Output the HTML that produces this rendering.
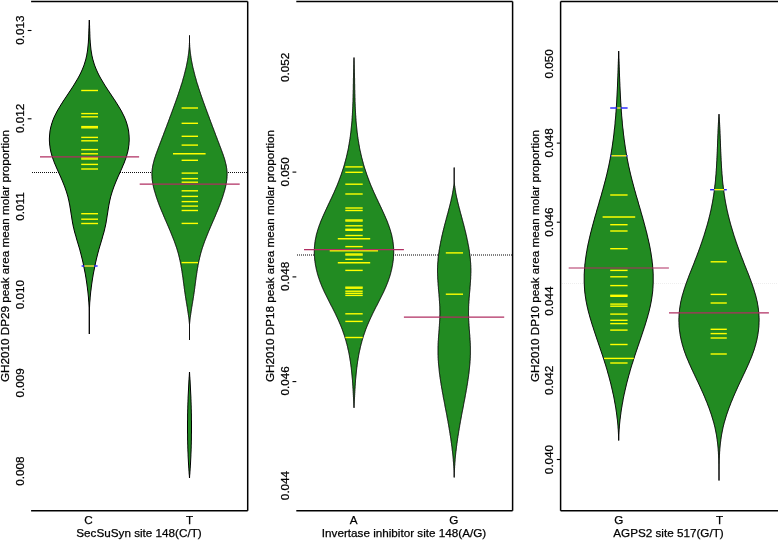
<!DOCTYPE html><html><head><meta charset="utf-8"><style>
html,body{margin:0;padding:0;background:#fff;}
svg{display:block;will-change:transform;}
text{font-family:"Liberation Sans",sans-serif;fill:#000;stroke:#000;stroke-width:0.25px;}
</style></head><body>
<svg width="778" height="541" viewBox="0 0 778 541">
<rect width="778" height="541" fill="#fff"/>
<path d="M31.1,1.6 L247.7,1.6 M31.1,510.8 L247.7,510.8 M247.7,1.6 L247.7,510.8" stroke="#000" stroke-width="1.5" fill="none"/>
<path d="M296.3,1.6 L512.6,1.6 M296.3,510.8 L512.6,510.8 M512.6,1.6 L512.6,510.8" stroke="#000" stroke-width="1.5" fill="none"/>
<path d="M560.6,1.6 L778.0,1.6 M560.6,510.8 L778.0,510.8 M560.6,1.6 L560.6,510.8" stroke="#000" stroke-width="1.5" fill="none"/>
<line x1="32" y1="172.5" x2="247" y2="172.5" stroke="#111" stroke-width="1" stroke-dasharray="1 1"/>
<line x1="297" y1="255.0" x2="512" y2="255.0" stroke="#000" stroke-width="1" stroke-dasharray="1 1"/>
<line x1="562" y1="283.5" x2="778" y2="283.5" stroke="#eeeeee" stroke-width="1" stroke-dasharray="1 1"/>
<path d="M89.3,20.0 L89.2,21.0 L89.2,22.0 L89.1,23.0 L89.1,24.0 L89.1,25.0 L89.0,26.0 L89.0,27.0 L89.0,28.0 L88.9,29.0 L88.9,30.0 L88.9,31.0 L88.8,32.0 L88.8,33.0 L88.8,34.0 L88.7,35.0 L88.7,36.0 L88.7,37.0 L88.6,38.0 L88.6,39.0 L88.5,40.0 L88.4,41.0 L88.4,42.0 L88.3,43.0 L88.2,44.0 L88.1,45.0 L88.0,46.0 L87.9,47.0 L87.8,48.0 L87.7,49.0 L87.6,50.0 L87.4,51.0 L87.3,52.0 L87.1,53.0 L86.9,54.0 L86.8,55.0 L86.6,56.0 L86.3,57.0 L86.1,58.0 L85.9,59.0 L85.6,60.0 L85.3,61.0 L85.0,62.0 L84.7,63.0 L84.4,64.0 L84.1,65.0 L83.7,66.0 L83.3,67.0 L82.9,68.0 L82.5,69.0 L82.1,70.0 L81.6,71.0 L81.2,72.0 L80.7,73.0 L80.2,74.0 L79.7,75.0 L79.2,76.0 L78.6,77.0 L78.1,78.0 L77.5,79.0 L76.9,80.0 L76.3,81.0 L75.7,82.0 L75.1,83.0 L74.5,84.0 L73.9,85.0 L73.3,86.0 L72.6,87.0 L72.0,88.0 L71.3,89.0 L70.7,90.0 L70.0,91.0 L69.3,92.0 L68.7,93.0 L68.0,94.0 L67.3,95.0 L66.7,96.0 L66.0,97.0 L65.3,98.0 L64.7,99.0 L64.0,100.0 L63.3,101.0 L62.7,102.0 L62.1,103.0 L61.4,104.0 L60.8,105.0 L60.2,106.0 L59.6,107.0 L59.0,108.0 L58.4,109.0 L57.8,110.0 L57.2,111.0 L56.7,112.0 L56.2,113.0 L55.7,114.0 L55.2,115.0 L54.7,116.0 L54.2,117.0 L53.8,118.0 L53.4,119.0 L53.0,120.0 L52.6,121.0 L52.3,122.0 L52.0,123.0 L51.6,124.0 L51.4,125.0 L51.1,126.0 L50.8,127.0 L50.6,128.0 L50.4,129.0 L50.2,130.0 L50.0,131.0 L49.9,132.0 L49.8,133.0 L49.7,134.0 L49.6,135.0 L49.5,136.0 L49.5,137.0 L49.4,138.0 L49.4,139.0 L49.4,140.0 L49.4,141.0 L49.5,142.0 L49.6,143.0 L49.6,144.0 L49.7,145.0 L49.9,146.0 L50.0,147.0 L50.1,148.0 L50.3,149.0 L50.5,150.0 L50.7,151.0 L50.9,152.0 L51.2,153.0 L51.5,154.0 L51.7,155.0 L52.0,156.0 L52.3,157.0 L52.7,158.0 L53.0,159.0 L53.4,160.0 L53.8,161.0 L54.1,162.0 L54.5,163.0 L54.9,164.0 L55.4,165.0 L55.8,166.0 L56.2,167.0 L56.6,168.0 L57.1,169.0 L57.5,170.0 L58.0,171.0 L58.4,172.0 L58.9,173.0 L59.3,174.0 L59.8,175.0 L60.2,176.0 L60.7,177.0 L61.1,178.0 L61.5,179.0 L62.0,180.0 L62.4,181.0 L62.8,182.0 L63.2,183.0 L63.6,184.0 L64.0,185.0 L64.4,186.0 L64.8,187.0 L65.1,188.0 L65.5,189.0 L65.8,190.0 L66.2,191.0 L66.5,192.0 L66.8,193.0 L67.1,194.0 L67.4,195.0 L67.7,196.0 L68.0,197.0 L68.2,198.0 L68.4,199.0 L68.7,200.0 L68.9,201.0 L69.1,202.0 L69.3,203.0 L69.5,204.0 L69.7,205.0 L69.9,206.0 L70.0,207.0 L70.2,208.0 L70.4,209.0 L70.5,210.0 L70.7,211.0 L70.8,212.0 L71.0,213.0 L71.1,214.0 L71.3,215.0 L71.5,216.0 L71.6,217.0 L71.8,218.0 L71.9,219.0 L72.1,220.0 L72.3,221.0 L72.4,222.0 L72.6,223.0 L72.8,224.0 L73.0,225.0 L73.2,226.0 L73.4,227.0 L73.7,228.0 L73.9,229.0 L74.1,230.0 L74.4,231.0 L74.6,232.0 L74.9,233.0 L75.2,234.0 L75.5,235.0 L75.8,236.0 L76.1,237.0 L76.3,238.0 L76.6,239.0 L76.9,240.0 L77.2,241.0 L77.5,242.0 L77.8,243.0 L78.1,244.0 L78.4,245.0 L78.7,246.0 L79.0,247.0 L79.3,248.0 L79.6,249.0 L79.9,250.0 L80.1,251.0 L80.4,252.0 L80.7,253.0 L80.9,254.0 L81.2,255.0 L81.4,256.0 L81.7,257.0 L81.9,258.0 L82.2,259.0 L82.4,260.0 L82.6,261.0 L82.9,262.0 L83.1,263.0 L83.3,264.0 L83.5,265.0 L83.7,266.0 L83.9,267.0 L84.1,268.0 L84.3,269.0 L84.5,270.0 L84.7,271.0 L84.9,272.0 L85.1,273.0 L85.3,274.0 L85.5,275.0 L85.6,276.0 L85.8,277.0 L86.0,278.0 L86.1,279.0 L86.3,280.0 L86.4,281.0 L86.6,282.0 L86.7,283.0 L86.9,284.0 L87.0,285.0 L87.1,286.0 L87.3,287.0 L87.4,288.0 L87.5,289.0 L87.6,290.0 L87.8,291.0 L87.9,292.0 L88.0,293.0 L88.1,294.0 L88.2,295.0 L88.3,296.0 L88.4,297.0 L88.5,298.0 L88.5,299.0 L88.6,300.0 L88.7,301.0 L88.8,302.0 L88.9,303.0 L88.9,304.0 L89.0,305.0 L89.0,306.0 L89.1,307.0 L89.2,308.0 L89.2,309.0 L89.2,310.0 L89.3,311.0 L89.3,312.0 L89.3,313.0 L89.3,314.0 L89.3,315.0 L89.3,316.0 L89.3,317.0 L89.3,318.0 L89.3,319.0 L89.3,320.0 L89.3,321.0 L89.3,322.0 L89.3,323.0 L89.3,324.0 L89.3,325.0 L89.3,326.0 L89.3,327.0 L89.3,328.0 L89.3,329.0 L89.3,330.0 L89.3,331.0 L89.3,332.0 L89.3,333.0 L89.3,334.0 L89.3,334.0 L89.3,333.0 L89.3,332.0 L89.3,331.0 L89.3,330.0 L89.3,329.0 L89.3,328.0 L89.3,327.0 L89.3,326.0 L89.3,325.0 L89.3,324.0 L89.3,323.0 L89.3,322.0 L89.3,321.0 L89.3,320.0 L89.3,319.0 L89.3,318.0 L89.3,317.0 L89.3,316.0 L89.3,315.0 L89.3,314.0 L89.3,313.0 L89.3,312.0 L89.3,311.0 L89.4,310.0 L89.4,309.0 L89.4,308.0 L89.5,307.0 L89.6,306.0 L89.6,305.0 L89.7,304.0 L89.7,303.0 L89.8,302.0 L89.9,301.0 L90.0,300.0 L90.1,299.0 L90.1,298.0 L90.2,297.0 L90.3,296.0 L90.4,295.0 L90.5,294.0 L90.6,293.0 L90.7,292.0 L90.8,291.0 L91.0,290.0 L91.1,289.0 L91.2,288.0 L91.3,287.0 L91.5,286.0 L91.6,285.0 L91.7,284.0 L91.9,283.0 L92.0,282.0 L92.2,281.0 L92.3,280.0 L92.5,279.0 L92.6,278.0 L92.8,277.0 L93.0,276.0 L93.1,275.0 L93.3,274.0 L93.5,273.0 L93.7,272.0 L93.9,271.0 L94.1,270.0 L94.3,269.0 L94.5,268.0 L94.7,267.0 L94.9,266.0 L95.1,265.0 L95.3,264.0 L95.5,263.0 L95.7,262.0 L96.0,261.0 L96.2,260.0 L96.4,259.0 L96.7,258.0 L96.9,257.0 L97.2,256.0 L97.4,255.0 L97.7,254.0 L97.9,253.0 L98.2,252.0 L98.5,251.0 L98.7,250.0 L99.0,249.0 L99.3,248.0 L99.6,247.0 L99.9,246.0 L100.2,245.0 L100.5,244.0 L100.8,243.0 L101.1,242.0 L101.4,241.0 L101.7,240.0 L102.0,239.0 L102.3,238.0 L102.5,237.0 L102.8,236.0 L103.1,235.0 L103.4,234.0 L103.7,233.0 L104.0,232.0 L104.2,231.0 L104.5,230.0 L104.7,229.0 L104.9,228.0 L105.2,227.0 L105.4,226.0 L105.6,225.0 L105.8,224.0 L106.0,223.0 L106.2,222.0 L106.3,221.0 L106.5,220.0 L106.7,219.0 L106.8,218.0 L107.0,217.0 L107.1,216.0 L107.3,215.0 L107.5,214.0 L107.6,213.0 L107.8,212.0 L107.9,211.0 L108.1,210.0 L108.2,209.0 L108.4,208.0 L108.6,207.0 L108.7,206.0 L108.9,205.0 L109.1,204.0 L109.3,203.0 L109.5,202.0 L109.7,201.0 L109.9,200.0 L110.2,199.0 L110.4,198.0 L110.6,197.0 L110.9,196.0 L111.2,195.0 L111.5,194.0 L111.8,193.0 L112.1,192.0 L112.4,191.0 L112.8,190.0 L113.1,189.0 L113.5,188.0 L113.8,187.0 L114.2,186.0 L114.6,185.0 L115.0,184.0 L115.4,183.0 L115.8,182.0 L116.2,181.0 L116.6,180.0 L117.1,179.0 L117.5,178.0 L117.9,177.0 L118.4,176.0 L118.8,175.0 L119.3,174.0 L119.7,173.0 L120.2,172.0 L120.6,171.0 L121.1,170.0 L121.5,169.0 L122.0,168.0 L122.4,167.0 L122.8,166.0 L123.2,165.0 L123.7,164.0 L124.1,163.0 L124.5,162.0 L124.8,161.0 L125.2,160.0 L125.6,159.0 L125.9,158.0 L126.3,157.0 L126.6,156.0 L126.9,155.0 L127.1,154.0 L127.4,153.0 L127.7,152.0 L127.9,151.0 L128.1,150.0 L128.3,149.0 L128.5,148.0 L128.6,147.0 L128.7,146.0 L128.9,145.0 L129.0,144.0 L129.0,143.0 L129.1,142.0 L129.2,141.0 L129.2,140.0 L129.2,139.0 L129.2,138.0 L129.1,137.0 L129.1,136.0 L129.0,135.0 L128.9,134.0 L128.8,133.0 L128.7,132.0 L128.6,131.0 L128.4,130.0 L128.2,129.0 L128.0,128.0 L127.8,127.0 L127.5,126.0 L127.2,125.0 L127.0,124.0 L126.6,123.0 L126.3,122.0 L126.0,121.0 L125.6,120.0 L125.2,119.0 L124.8,118.0 L124.4,117.0 L123.9,116.0 L123.4,115.0 L122.9,114.0 L122.4,113.0 L121.9,112.0 L121.4,111.0 L120.8,110.0 L120.2,109.0 L119.6,108.0 L119.0,107.0 L118.4,106.0 L117.8,105.0 L117.2,104.0 L116.5,103.0 L115.9,102.0 L115.3,101.0 L114.6,100.0 L113.9,99.0 L113.3,98.0 L112.6,97.0 L111.9,96.0 L111.3,95.0 L110.6,94.0 L109.9,93.0 L109.3,92.0 L108.6,91.0 L107.9,90.0 L107.3,89.0 L106.6,88.0 L106.0,87.0 L105.3,86.0 L104.7,85.0 L104.1,84.0 L103.5,83.0 L102.9,82.0 L102.3,81.0 L101.7,80.0 L101.1,79.0 L100.5,78.0 L100.0,77.0 L99.4,76.0 L98.9,75.0 L98.4,74.0 L97.9,73.0 L97.4,72.0 L97.0,71.0 L96.5,70.0 L96.1,69.0 L95.7,68.0 L95.3,67.0 L94.9,66.0 L94.5,65.0 L94.2,64.0 L93.9,63.0 L93.6,62.0 L93.3,61.0 L93.0,60.0 L92.7,59.0 L92.5,58.0 L92.3,57.0 L92.0,56.0 L91.8,55.0 L91.7,54.0 L91.5,53.0 L91.3,52.0 L91.2,51.0 L91.0,50.0 L90.9,49.0 L90.8,48.0 L90.7,47.0 L90.6,46.0 L90.5,45.0 L90.4,44.0 L90.3,43.0 L90.2,42.0 L90.2,41.0 L90.1,40.0 L90.0,39.0 L90.0,38.0 L89.9,37.0 L89.9,36.0 L89.9,35.0 L89.8,34.0 L89.8,33.0 L89.8,32.0 L89.7,31.0 L89.7,30.0 L89.7,29.0 L89.6,28.0 L89.6,27.0 L89.6,26.0 L89.5,25.0 L89.5,24.0 L89.5,23.0 L89.4,22.0 L89.4,21.0 L89.3,20.0 Z" fill="#228B22" stroke="#000" stroke-width="1"/>
<path d="M189.5,35.5 L189.5,36.5 L189.5,37.5 L189.5,38.5 L189.5,39.5 L189.5,40.5 L189.5,41.5 L189.5,42.5 L189.4,43.5 L189.4,44.5 L189.3,45.5 L189.3,46.5 L189.2,47.5 L189.1,48.5 L189.0,49.5 L188.9,50.5 L188.8,51.5 L188.7,52.5 L188.6,53.5 L188.4,54.5 L188.3,55.5 L188.1,56.5 L188.0,57.5 L187.8,58.5 L187.7,59.5 L187.5,60.5 L187.3,61.5 L187.1,62.5 L186.9,63.5 L186.7,64.5 L186.5,65.5 L186.3,66.5 L186.1,67.5 L185.8,68.5 L185.6,69.5 L185.3,70.5 L185.1,71.5 L184.8,72.5 L184.6,73.5 L184.3,74.5 L184.1,75.5 L183.8,76.5 L183.5,77.5 L183.2,78.5 L182.9,79.5 L182.7,80.5 L182.4,81.5 L182.1,82.5 L181.8,83.5 L181.4,84.5 L181.1,85.5 L180.8,86.5 L180.5,87.5 L180.2,88.5 L179.8,89.5 L179.5,90.5 L179.2,91.5 L178.8,92.5 L178.5,93.5 L178.2,94.5 L177.8,95.5 L177.5,96.5 L177.1,97.5 L176.8,98.5 L176.4,99.5 L176.1,100.5 L175.7,101.5 L175.4,102.5 L175.0,103.5 L174.6,104.5 L174.3,105.5 L173.9,106.5 L173.5,107.5 L173.2,108.5 L172.8,109.5 L172.4,110.5 L172.1,111.5 L171.7,112.5 L171.3,113.5 L171.0,114.5 L170.6,115.5 L170.2,116.5 L169.8,117.5 L169.5,118.5 L169.1,119.5 L168.7,120.5 L168.4,121.5 L168.0,122.5 L167.6,123.5 L167.2,124.5 L166.9,125.5 L166.5,126.5 L166.1,127.5 L165.7,128.5 L165.3,129.5 L165.0,130.5 L164.6,131.5 L164.2,132.5 L163.8,133.5 L163.5,134.5 L163.1,135.5 L162.7,136.5 L162.3,137.5 L161.9,138.5 L161.6,139.5 L161.2,140.5 L160.8,141.5 L160.4,142.5 L160.0,143.5 L159.7,144.5 L159.3,145.5 L158.9,146.5 L158.5,147.5 L158.1,148.5 L157.8,149.5 L157.4,150.5 L157.0,151.5 L156.7,152.5 L156.3,153.5 L155.9,154.5 L155.6,155.5 L155.3,156.5 L154.9,157.5 L154.6,158.5 L154.3,159.5 L154.0,160.5 L153.8,161.5 L153.5,162.5 L153.3,163.5 L153.0,164.5 L152.8,165.5 L152.6,166.5 L152.5,167.5 L152.3,168.5 L152.2,169.5 L152.1,170.5 L152.0,171.5 L151.9,172.5 L151.9,173.5 L151.9,174.5 L151.9,175.5 L152.0,176.5 L152.0,177.5 L152.1,178.5 L152.2,179.5 L152.3,180.5 L152.5,181.5 L152.6,182.5 L152.8,183.5 L153.0,184.5 L153.2,185.5 L153.4,186.5 L153.6,187.5 L153.9,188.5 L154.1,189.5 L154.4,190.5 L154.7,191.5 L155.0,192.5 L155.3,193.5 L155.6,194.5 L155.9,195.5 L156.2,196.5 L156.5,197.5 L156.9,198.5 L157.2,199.5 L157.6,200.5 L157.9,201.5 L158.3,202.5 L158.7,203.5 L159.0,204.5 L159.4,205.5 L159.8,206.5 L160.2,207.5 L160.6,208.5 L161.0,209.5 L161.4,210.5 L161.8,211.5 L162.3,212.5 L162.7,213.5 L163.1,214.5 L163.5,215.5 L163.9,216.5 L164.4,217.5 L164.8,218.5 L165.2,219.5 L165.7,220.5 L166.1,221.5 L166.5,222.5 L167.0,223.5 L167.4,224.5 L167.8,225.5 L168.3,226.5 L168.7,227.5 L169.1,228.5 L169.5,229.5 L170.0,230.5 L170.4,231.5 L170.8,232.5 L171.2,233.5 L171.6,234.5 L172.0,235.5 L172.4,236.5 L172.8,237.5 L173.2,238.5 L173.6,239.5 L174.0,240.5 L174.4,241.5 L174.7,242.5 L175.1,243.5 L175.4,244.5 L175.8,245.5 L176.1,246.5 L176.5,247.5 L176.8,248.5 L177.1,249.5 L177.4,250.5 L177.7,251.5 L178.0,252.5 L178.3,253.5 L178.5,254.5 L178.8,255.5 L179.0,256.5 L179.3,257.5 L179.5,258.5 L179.7,259.5 L180.0,260.5 L180.2,261.5 L180.4,262.5 L180.6,263.5 L180.8,264.5 L181.0,265.5 L181.1,266.5 L181.3,267.5 L181.5,268.5 L181.7,269.5 L181.8,270.5 L182.0,271.5 L182.1,272.5 L182.3,273.5 L182.4,274.5 L182.6,275.5 L182.7,276.5 L182.9,277.5 L183.0,278.5 L183.1,279.5 L183.3,280.5 L183.4,281.5 L183.5,282.5 L183.7,283.5 L183.8,284.5 L183.9,285.5 L184.1,286.5 L184.2,287.5 L184.3,288.5 L184.5,289.5 L184.6,290.5 L184.7,291.5 L184.9,292.5 L185.0,293.5 L185.2,294.5 L185.3,295.5 L185.5,296.5 L185.6,297.5 L185.8,298.5 L185.9,299.5 L186.1,300.5 L186.3,301.5 L186.4,302.5 L186.6,303.5 L186.8,304.5 L186.9,305.5 L187.1,306.5 L187.3,307.5 L187.4,308.5 L187.6,309.5 L187.7,310.5 L187.9,311.5 L188.0,312.5 L188.2,313.5 L188.3,314.5 L188.5,315.5 L188.6,316.5 L188.8,317.5 L188.9,318.5 L189.0,319.5 L189.1,320.5 L189.2,321.5 L189.3,322.5 L189.4,323.5 L189.5,324.5 L189.5,325.5 L189.5,326.5 L189.5,327.5 L189.5,328.5 L189.5,329.5 L189.5,330.5 L189.5,331.5 L189.5,332.5 L189.5,333.5 L189.5,334.5 L189.5,335.5 L189.5,336.5 L189.5,337.5 L189.5,338.5 L189.5,339.5 L189.5,340.0 L189.5,340.0 L189.5,339.5 L189.5,338.5 L189.5,337.5 L189.5,336.5 L189.5,335.5 L189.5,334.5 L189.5,333.5 L189.5,332.5 L189.5,331.5 L189.5,330.5 L189.5,329.5 L189.5,328.5 L189.5,327.5 L189.5,326.5 L189.5,325.5 L189.5,324.5 L189.6,323.5 L189.7,322.5 L189.8,321.5 L189.9,320.5 L190.0,319.5 L190.1,318.5 L190.2,317.5 L190.4,316.5 L190.5,315.5 L190.7,314.5 L190.8,313.5 L191.0,312.5 L191.1,311.5 L191.3,310.5 L191.4,309.5 L191.6,308.5 L191.7,307.5 L191.9,306.5 L192.1,305.5 L192.2,304.5 L192.4,303.5 L192.6,302.5 L192.7,301.5 L192.9,300.5 L193.1,299.5 L193.2,298.5 L193.4,297.5 L193.5,296.5 L193.7,295.5 L193.8,294.5 L194.0,293.5 L194.1,292.5 L194.3,291.5 L194.4,290.5 L194.5,289.5 L194.7,288.5 L194.8,287.5 L194.9,286.5 L195.1,285.5 L195.2,284.5 L195.3,283.5 L195.5,282.5 L195.6,281.5 L195.7,280.5 L195.9,279.5 L196.0,278.5 L196.1,277.5 L196.3,276.5 L196.4,275.5 L196.6,274.5 L196.7,273.5 L196.9,272.5 L197.0,271.5 L197.2,270.5 L197.3,269.5 L197.5,268.5 L197.7,267.5 L197.9,266.5 L198.0,265.5 L198.2,264.5 L198.4,263.5 L198.6,262.5 L198.8,261.5 L199.0,260.5 L199.3,259.5 L199.5,258.5 L199.7,257.5 L200.0,256.5 L200.2,255.5 L200.5,254.5 L200.7,253.5 L201.0,252.5 L201.3,251.5 L201.6,250.5 L201.9,249.5 L202.2,248.5 L202.5,247.5 L202.9,246.5 L203.2,245.5 L203.6,244.5 L203.9,243.5 L204.3,242.5 L204.6,241.5 L205.0,240.5 L205.4,239.5 L205.8,238.5 L206.2,237.5 L206.6,236.5 L207.0,235.5 L207.4,234.5 L207.8,233.5 L208.2,232.5 L208.6,231.5 L209.0,230.5 L209.5,229.5 L209.9,228.5 L210.3,227.5 L210.7,226.5 L211.2,225.5 L211.6,224.5 L212.0,223.5 L212.5,222.5 L212.9,221.5 L213.3,220.5 L213.8,219.5 L214.2,218.5 L214.6,217.5 L215.1,216.5 L215.5,215.5 L215.9,214.5 L216.3,213.5 L216.7,212.5 L217.2,211.5 L217.6,210.5 L218.0,209.5 L218.4,208.5 L218.8,207.5 L219.2,206.5 L219.6,205.5 L220.0,204.5 L220.3,203.5 L220.7,202.5 L221.1,201.5 L221.4,200.5 L221.8,199.5 L222.1,198.5 L222.5,197.5 L222.8,196.5 L223.1,195.5 L223.4,194.5 L223.7,193.5 L224.0,192.5 L224.3,191.5 L224.6,190.5 L224.9,189.5 L225.1,188.5 L225.4,187.5 L225.6,186.5 L225.8,185.5 L226.0,184.5 L226.2,183.5 L226.4,182.5 L226.5,181.5 L226.7,180.5 L226.8,179.5 L226.9,178.5 L227.0,177.5 L227.0,176.5 L227.1,175.5 L227.1,174.5 L227.1,173.5 L227.1,172.5 L227.0,171.5 L226.9,170.5 L226.8,169.5 L226.7,168.5 L226.5,167.5 L226.4,166.5 L226.2,165.5 L226.0,164.5 L225.7,163.5 L225.5,162.5 L225.2,161.5 L225.0,160.5 L224.7,159.5 L224.4,158.5 L224.1,157.5 L223.7,156.5 L223.4,155.5 L223.1,154.5 L222.7,153.5 L222.3,152.5 L222.0,151.5 L221.6,150.5 L221.2,149.5 L220.9,148.5 L220.5,147.5 L220.1,146.5 L219.7,145.5 L219.3,144.5 L219.0,143.5 L218.6,142.5 L218.2,141.5 L217.8,140.5 L217.4,139.5 L217.1,138.5 L216.7,137.5 L216.3,136.5 L215.9,135.5 L215.5,134.5 L215.2,133.5 L214.8,132.5 L214.4,131.5 L214.0,130.5 L213.7,129.5 L213.3,128.5 L212.9,127.5 L212.5,126.5 L212.1,125.5 L211.8,124.5 L211.4,123.5 L211.0,122.5 L210.6,121.5 L210.3,120.5 L209.9,119.5 L209.5,118.5 L209.2,117.5 L208.8,116.5 L208.4,115.5 L208.0,114.5 L207.7,113.5 L207.3,112.5 L206.9,111.5 L206.6,110.5 L206.2,109.5 L205.8,108.5 L205.5,107.5 L205.1,106.5 L204.7,105.5 L204.4,104.5 L204.0,103.5 L203.6,102.5 L203.3,101.5 L202.9,100.5 L202.6,99.5 L202.2,98.5 L201.9,97.5 L201.5,96.5 L201.2,95.5 L200.8,94.5 L200.5,93.5 L200.2,92.5 L199.8,91.5 L199.5,90.5 L199.2,89.5 L198.8,88.5 L198.5,87.5 L198.2,86.5 L197.9,85.5 L197.6,84.5 L197.2,83.5 L196.9,82.5 L196.6,81.5 L196.3,80.5 L196.1,79.5 L195.8,78.5 L195.5,77.5 L195.2,76.5 L194.9,75.5 L194.7,74.5 L194.4,73.5 L194.2,72.5 L193.9,71.5 L193.7,70.5 L193.4,69.5 L193.2,68.5 L192.9,67.5 L192.7,66.5 L192.5,65.5 L192.3,64.5 L192.1,63.5 L191.9,62.5 L191.7,61.5 L191.5,60.5 L191.3,59.5 L191.2,58.5 L191.0,57.5 L190.9,56.5 L190.7,55.5 L190.6,54.5 L190.4,53.5 L190.3,52.5 L190.2,51.5 L190.1,50.5 L190.0,49.5 L189.9,48.5 L189.8,47.5 L189.7,46.5 L189.7,45.5 L189.6,44.5 L189.6,43.5 L189.5,42.5 L189.5,41.5 L189.5,40.5 L189.5,39.5 L189.5,38.5 L189.5,37.5 L189.5,36.5 L189.5,35.5 Z" fill="#228B22" stroke="#000" stroke-width="1"/>
<path d="M189.5,372.0 L189.4,373.0 L189.4,374.0 L189.3,375.0 L189.3,376.0 L189.2,377.0 L189.1,378.0 L189.1,379.0 L189.0,380.0 L188.9,381.0 L188.9,382.0 L188.8,383.0 L188.8,384.0 L188.7,385.0 L188.7,386.0 L188.6,387.0 L188.6,388.0 L188.5,389.0 L188.5,390.0 L188.4,391.0 L188.4,392.0 L188.3,393.0 L188.3,394.0 L188.2,395.0 L188.2,396.0 L188.1,397.0 L188.1,398.0 L188.1,399.0 L188.0,400.0 L188.0,401.0 L188.0,402.0 L187.9,403.0 L187.9,404.0 L187.9,405.0 L187.8,406.0 L187.8,407.0 L187.8,408.0 L187.8,409.0 L187.7,410.0 L187.7,411.0 L187.7,412.0 L187.7,413.0 L187.6,414.0 L187.6,415.0 L187.6,416.0 L187.6,417.0 L187.6,418.0 L187.6,419.0 L187.6,420.0 L187.5,421.0 L187.5,422.0 L187.5,423.0 L187.5,424.0 L187.5,425.0 L187.5,426.0 L187.5,427.0 L187.5,428.0 L187.5,429.0 L187.5,430.0 L187.5,431.0 L187.5,432.0 L187.5,433.0 L187.6,434.0 L187.6,435.0 L187.6,436.0 L187.6,437.0 L187.6,438.0 L187.6,439.0 L187.6,440.0 L187.7,441.0 L187.7,442.0 L187.7,443.0 L187.7,444.0 L187.8,445.0 L187.8,446.0 L187.8,447.0 L187.8,448.0 L187.9,449.0 L187.9,450.0 L187.9,451.0 L188.0,452.0 L188.0,453.0 L188.1,454.0 L188.1,455.0 L188.1,456.0 L188.2,457.0 L188.2,458.0 L188.3,459.0 L188.3,460.0 L188.4,461.0 L188.4,462.0 L188.5,463.0 L188.5,464.0 L188.6,465.0 L188.7,466.0 L188.7,467.0 L188.8,468.0 L188.9,469.0 L188.9,470.0 L189.0,471.0 L189.1,472.0 L189.1,473.0 L189.2,474.0 L189.3,475.0 L189.4,476.0 L189.4,477.0 L189.5,478.0 L189.5,478.0 L189.6,477.0 L189.6,476.0 L189.7,475.0 L189.8,474.0 L189.9,473.0 L189.9,472.0 L190.0,471.0 L190.1,470.0 L190.1,469.0 L190.2,468.0 L190.3,467.0 L190.3,466.0 L190.4,465.0 L190.5,464.0 L190.5,463.0 L190.6,462.0 L190.6,461.0 L190.7,460.0 L190.7,459.0 L190.8,458.0 L190.8,457.0 L190.9,456.0 L190.9,455.0 L190.9,454.0 L191.0,453.0 L191.0,452.0 L191.1,451.0 L191.1,450.0 L191.1,449.0 L191.2,448.0 L191.2,447.0 L191.2,446.0 L191.2,445.0 L191.3,444.0 L191.3,443.0 L191.3,442.0 L191.3,441.0 L191.4,440.0 L191.4,439.0 L191.4,438.0 L191.4,437.0 L191.4,436.0 L191.4,435.0 L191.4,434.0 L191.5,433.0 L191.5,432.0 L191.5,431.0 L191.5,430.0 L191.5,429.0 L191.5,428.0 L191.5,427.0 L191.5,426.0 L191.5,425.0 L191.5,424.0 L191.5,423.0 L191.5,422.0 L191.5,421.0 L191.4,420.0 L191.4,419.0 L191.4,418.0 L191.4,417.0 L191.4,416.0 L191.4,415.0 L191.4,414.0 L191.3,413.0 L191.3,412.0 L191.3,411.0 L191.3,410.0 L191.2,409.0 L191.2,408.0 L191.2,407.0 L191.2,406.0 L191.1,405.0 L191.1,404.0 L191.1,403.0 L191.0,402.0 L191.0,401.0 L191.0,400.0 L190.9,399.0 L190.9,398.0 L190.9,397.0 L190.8,396.0 L190.8,395.0 L190.7,394.0 L190.7,393.0 L190.6,392.0 L190.6,391.0 L190.5,390.0 L190.5,389.0 L190.4,388.0 L190.4,387.0 L190.3,386.0 L190.3,385.0 L190.2,384.0 L190.2,383.0 L190.1,382.0 L190.1,381.0 L190.0,380.0 L189.9,379.0 L189.9,378.0 L189.8,377.0 L189.7,376.0 L189.7,375.0 L189.6,374.0 L189.6,373.0 L189.5,372.0 Z" fill="#228B22" stroke="#000" stroke-width="1"/>
<path d="M354.0,57.6 L354.0,58.6 L353.9,59.6 L353.9,60.6 L353.8,61.6 L353.8,62.6 L353.8,63.6 L353.8,64.6 L353.7,65.6 L353.7,66.6 L353.7,67.6 L353.7,68.6 L353.6,69.6 L353.6,70.6 L353.6,71.6 L353.6,72.6 L353.5,73.6 L353.5,74.6 L353.5,75.6 L353.5,76.6 L353.5,77.6 L353.4,78.6 L353.4,79.6 L353.4,80.6 L353.4,81.6 L353.4,82.6 L353.4,83.6 L353.3,84.6 L353.3,85.6 L353.3,86.6 L353.3,87.6 L353.3,88.6 L353.3,89.6 L353.2,90.6 L353.2,91.6 L353.2,92.6 L353.2,93.6 L353.1,94.6 L353.1,95.6 L353.1,96.6 L353.1,97.6 L353.0,98.6 L353.0,99.6 L353.0,100.6 L353.0,101.6 L352.9,102.6 L352.9,103.6 L352.8,104.6 L352.8,105.6 L352.8,106.6 L352.7,107.6 L352.7,108.6 L352.6,109.6 L352.6,110.6 L352.5,111.6 L352.5,112.6 L352.4,113.6 L352.4,114.6 L352.3,115.6 L352.2,116.6 L352.2,117.6 L352.1,118.6 L352.0,119.6 L352.0,120.6 L351.9,121.6 L351.8,122.6 L351.7,123.6 L351.6,124.6 L351.5,125.6 L351.4,126.6 L351.3,127.6 L351.2,128.6 L351.1,129.6 L351.0,130.6 L350.9,131.6 L350.8,132.6 L350.6,133.6 L350.5,134.6 L350.4,135.6 L350.3,136.6 L350.1,137.6 L350.0,138.6 L349.8,139.6 L349.7,140.6 L349.5,141.6 L349.3,142.6 L349.2,143.6 L349.0,144.6 L348.8,145.6 L348.6,146.6 L348.5,147.6 L348.3,148.6 L348.1,149.6 L347.9,150.6 L347.6,151.6 L347.4,152.6 L347.2,153.6 L347.0,154.6 L346.7,155.6 L346.5,156.6 L346.3,157.6 L346.0,158.6 L345.7,159.6 L345.5,160.6 L345.2,161.6 L344.9,162.6 L344.7,163.6 L344.4,164.6 L344.1,165.6 L343.8,166.6 L343.5,167.6 L343.2,168.6 L342.8,169.6 L342.5,170.6 L342.2,171.6 L341.8,172.6 L341.5,173.6 L341.2,174.6 L340.8,175.6 L340.4,176.6 L340.1,177.6 L339.7,178.6 L339.3,179.6 L339.0,180.6 L338.6,181.6 L338.2,182.6 L337.8,183.6 L337.4,184.6 L337.0,185.6 L336.6,186.6 L336.1,187.6 L335.7,188.6 L335.3,189.6 L334.8,190.6 L334.4,191.6 L334.0,192.6 L333.5,193.6 L333.0,194.6 L332.6,195.6 L332.1,196.6 L331.7,197.6 L331.2,198.6 L330.7,199.6 L330.2,200.6 L329.8,201.6 L329.3,202.6 L328.8,203.6 L328.3,204.6 L327.9,205.6 L327.4,206.6 L326.9,207.6 L326.5,208.6 L326.0,209.6 L325.5,210.6 L325.1,211.6 L324.6,212.6 L324.2,213.6 L323.7,214.6 L323.3,215.6 L322.8,216.6 L322.4,217.6 L322.0,218.6 L321.5,219.6 L321.1,220.6 L320.7,221.6 L320.3,222.6 L320.0,223.6 L319.6,224.6 L319.2,225.6 L318.9,226.6 L318.5,227.6 L318.2,228.6 L317.9,229.6 L317.5,230.6 L317.3,231.6 L317.0,232.6 L316.7,233.6 L316.4,234.6 L316.2,235.6 L316.0,236.6 L315.8,237.6 L315.6,238.6 L315.4,239.6 L315.2,240.6 L315.1,241.6 L314.9,242.6 L314.8,243.6 L314.7,244.6 L314.6,245.6 L314.5,246.6 L314.4,247.6 L314.4,248.6 L314.4,249.6 L314.3,250.6 L314.3,251.6 L314.3,252.6 L314.3,253.6 L314.4,254.6 L314.4,255.6 L314.5,256.6 L314.6,257.6 L314.6,258.6 L314.7,259.6 L314.8,260.6 L315.0,261.6 L315.1,262.6 L315.3,263.6 L315.4,264.6 L315.6,265.6 L315.8,266.6 L316.0,267.6 L316.2,268.6 L316.4,269.6 L316.7,270.6 L316.9,271.6 L317.2,272.6 L317.4,273.6 L317.7,274.6 L318.0,275.6 L318.3,276.6 L318.6,277.6 L319.0,278.6 L319.3,279.6 L319.7,280.6 L320.0,281.6 L320.4,282.6 L320.8,283.6 L321.2,284.6 L321.6,285.6 L322.0,286.6 L322.4,287.6 L322.9,288.6 L323.3,289.6 L323.8,290.6 L324.2,291.6 L324.7,292.6 L325.2,293.6 L325.7,294.6 L326.2,295.6 L326.7,296.6 L327.2,297.6 L327.7,298.6 L328.2,299.6 L328.7,300.6 L329.2,301.6 L329.7,302.6 L330.2,303.6 L330.7,304.6 L331.2,305.6 L331.8,306.6 L332.3,307.6 L332.8,308.6 L333.3,309.6 L333.8,310.6 L334.3,311.6 L334.8,312.6 L335.3,313.6 L335.8,314.6 L336.2,315.6 L336.7,316.6 L337.2,317.6 L337.6,318.6 L338.1,319.6 L338.5,320.6 L339.0,321.6 L339.4,322.6 L339.8,323.6 L340.3,324.6 L340.7,325.6 L341.1,326.6 L341.5,327.6 L341.9,328.6 L342.3,329.6 L342.6,330.6 L343.0,331.6 L343.3,332.6 L343.7,333.6 L344.0,334.6 L344.4,335.6 L344.7,336.6 L345.0,337.6 L345.3,338.6 L345.6,339.6 L345.9,340.6 L346.2,341.6 L346.4,342.6 L346.7,343.6 L347.0,344.6 L347.2,345.6 L347.5,346.6 L347.7,347.6 L347.9,348.6 L348.1,349.6 L348.4,350.6 L348.6,351.6 L348.8,352.6 L349.0,353.6 L349.2,354.6 L349.4,355.6 L349.5,356.6 L349.7,357.6 L349.9,358.6 L350.0,359.6 L350.2,360.6 L350.4,361.6 L350.5,362.6 L350.6,363.6 L350.8,364.6 L350.9,365.6 L351.0,366.6 L351.2,367.6 L351.3,368.6 L351.4,369.6 L351.5,370.6 L351.6,371.6 L351.7,372.6 L351.8,373.6 L351.9,374.6 L352.0,375.6 L352.1,376.6 L352.2,377.6 L352.3,378.6 L352.4,379.6 L352.5,380.6 L352.5,381.6 L352.6,382.6 L352.7,383.6 L352.7,384.6 L352.8,385.6 L352.9,386.6 L352.9,387.6 L353.0,388.6 L353.1,389.6 L353.1,390.6 L353.2,391.6 L353.2,392.6 L353.3,393.6 L353.3,394.6 L353.4,395.6 L353.4,396.6 L353.5,397.6 L353.5,398.6 L353.6,399.6 L353.6,400.6 L353.7,401.6 L353.7,402.6 L353.8,403.6 L353.8,404.6 L353.9,405.6 L353.9,406.6 L354.0,407.6 L354.0,407.8 L354.0,407.8 L354.0,407.6 L354.1,406.6 L354.1,405.6 L354.2,404.6 L354.2,403.6 L354.3,402.6 L354.3,401.6 L354.4,400.6 L354.4,399.6 L354.5,398.6 L354.5,397.6 L354.6,396.6 L354.6,395.6 L354.7,394.6 L354.7,393.6 L354.8,392.6 L354.8,391.6 L354.9,390.6 L354.9,389.6 L355.0,388.6 L355.1,387.6 L355.1,386.6 L355.2,385.6 L355.3,384.6 L355.3,383.6 L355.4,382.6 L355.5,381.6 L355.5,380.6 L355.6,379.6 L355.7,378.6 L355.8,377.6 L355.9,376.6 L356.0,375.6 L356.1,374.6 L356.2,373.6 L356.3,372.6 L356.4,371.6 L356.5,370.6 L356.6,369.6 L356.7,368.6 L356.8,367.6 L357.0,366.6 L357.1,365.6 L357.2,364.6 L357.4,363.6 L357.5,362.6 L357.6,361.6 L357.8,360.6 L358.0,359.6 L358.1,358.6 L358.3,357.6 L358.5,356.6 L358.6,355.6 L358.8,354.6 L359.0,353.6 L359.2,352.6 L359.4,351.6 L359.6,350.6 L359.9,349.6 L360.1,348.6 L360.3,347.6 L360.5,346.6 L360.8,345.6 L361.0,344.6 L361.3,343.6 L361.6,342.6 L361.8,341.6 L362.1,340.6 L362.4,339.6 L362.7,338.6 L363.0,337.6 L363.3,336.6 L363.6,335.6 L364.0,334.6 L364.3,333.6 L364.7,332.6 L365.0,331.6 L365.4,330.6 L365.7,329.6 L366.1,328.6 L366.5,327.6 L366.9,326.6 L367.3,325.6 L367.7,324.6 L368.2,323.6 L368.6,322.6 L369.0,321.6 L369.5,320.6 L369.9,319.6 L370.4,318.6 L370.8,317.6 L371.3,316.6 L371.8,315.6 L372.2,314.6 L372.7,313.6 L373.2,312.6 L373.7,311.6 L374.2,310.6 L374.7,309.6 L375.2,308.6 L375.7,307.6 L376.2,306.6 L376.8,305.6 L377.3,304.6 L377.8,303.6 L378.3,302.6 L378.8,301.6 L379.3,300.6 L379.8,299.6 L380.3,298.6 L380.8,297.6 L381.3,296.6 L381.8,295.6 L382.3,294.6 L382.8,293.6 L383.3,292.6 L383.8,291.6 L384.2,290.6 L384.7,289.6 L385.1,288.6 L385.6,287.6 L386.0,286.6 L386.4,285.6 L386.8,284.6 L387.2,283.6 L387.6,282.6 L388.0,281.6 L388.3,280.6 L388.7,279.6 L389.0,278.6 L389.4,277.6 L389.7,276.6 L390.0,275.6 L390.3,274.6 L390.6,273.6 L390.8,272.6 L391.1,271.6 L391.3,270.6 L391.6,269.6 L391.8,268.6 L392.0,267.6 L392.2,266.6 L392.4,265.6 L392.6,264.6 L392.7,263.6 L392.9,262.6 L393.0,261.6 L393.2,260.6 L393.3,259.6 L393.4,258.6 L393.4,257.6 L393.5,256.6 L393.6,255.6 L393.6,254.6 L393.7,253.6 L393.7,252.6 L393.7,251.6 L393.7,250.6 L393.6,249.6 L393.6,248.6 L393.6,247.6 L393.5,246.6 L393.4,245.6 L393.3,244.6 L393.2,243.6 L393.1,242.6 L392.9,241.6 L392.8,240.6 L392.6,239.6 L392.4,238.6 L392.2,237.6 L392.0,236.6 L391.8,235.6 L391.6,234.6 L391.3,233.6 L391.0,232.6 L390.7,231.6 L390.5,230.6 L390.1,229.6 L389.8,228.6 L389.5,227.6 L389.1,226.6 L388.8,225.6 L388.4,224.6 L388.0,223.6 L387.7,222.6 L387.3,221.6 L386.9,220.6 L386.5,219.6 L386.0,218.6 L385.6,217.6 L385.2,216.6 L384.7,215.6 L384.3,214.6 L383.8,213.6 L383.4,212.6 L382.9,211.6 L382.5,210.6 L382.0,209.6 L381.5,208.6 L381.1,207.6 L380.6,206.6 L380.1,205.6 L379.7,204.6 L379.2,203.6 L378.7,202.6 L378.2,201.6 L377.8,200.6 L377.3,199.6 L376.8,198.6 L376.3,197.6 L375.9,196.6 L375.4,195.6 L375.0,194.6 L374.5,193.6 L374.0,192.6 L373.6,191.6 L373.2,190.6 L372.7,189.6 L372.3,188.6 L371.9,187.6 L371.4,186.6 L371.0,185.6 L370.6,184.6 L370.2,183.6 L369.8,182.6 L369.4,181.6 L369.0,180.6 L368.7,179.6 L368.3,178.6 L367.9,177.6 L367.6,176.6 L367.2,175.6 L366.8,174.6 L366.5,173.6 L366.2,172.6 L365.8,171.6 L365.5,170.6 L365.2,169.6 L364.8,168.6 L364.5,167.6 L364.2,166.6 L363.9,165.6 L363.6,164.6 L363.3,163.6 L363.1,162.6 L362.8,161.6 L362.5,160.6 L362.3,159.6 L362.0,158.6 L361.7,157.6 L361.5,156.6 L361.3,155.6 L361.0,154.6 L360.8,153.6 L360.6,152.6 L360.4,151.6 L360.1,150.6 L359.9,149.6 L359.7,148.6 L359.5,147.6 L359.4,146.6 L359.2,145.6 L359.0,144.6 L358.8,143.6 L358.7,142.6 L358.5,141.6 L358.3,140.6 L358.2,139.6 L358.0,138.6 L357.9,137.6 L357.7,136.6 L357.6,135.6 L357.5,134.6 L357.4,133.6 L357.2,132.6 L357.1,131.6 L357.0,130.6 L356.9,129.6 L356.8,128.6 L356.7,127.6 L356.6,126.6 L356.5,125.6 L356.4,124.6 L356.3,123.6 L356.2,122.6 L356.1,121.6 L356.0,120.6 L356.0,119.6 L355.9,118.6 L355.8,117.6 L355.8,116.6 L355.7,115.6 L355.6,114.6 L355.6,113.6 L355.5,112.6 L355.5,111.6 L355.4,110.6 L355.4,109.6 L355.3,108.6 L355.3,107.6 L355.2,106.6 L355.2,105.6 L355.2,104.6 L355.1,103.6 L355.1,102.6 L355.0,101.6 L355.0,100.6 L355.0,99.6 L355.0,98.6 L354.9,97.6 L354.9,96.6 L354.9,95.6 L354.9,94.6 L354.8,93.6 L354.8,92.6 L354.8,91.6 L354.8,90.6 L354.7,89.6 L354.7,88.6 L354.7,87.6 L354.7,86.6 L354.7,85.6 L354.7,84.6 L354.6,83.6 L354.6,82.6 L354.6,81.6 L354.6,80.6 L354.6,79.6 L354.6,78.6 L354.5,77.6 L354.5,76.6 L354.5,75.6 L354.5,74.6 L354.5,73.6 L354.4,72.6 L354.4,71.6 L354.4,70.6 L354.4,69.6 L354.3,68.6 L354.3,67.6 L354.3,66.6 L354.3,65.6 L354.2,64.6 L354.2,63.6 L354.2,62.6 L354.2,61.6 L354.1,60.6 L354.1,59.6 L354.0,58.6 L354.0,57.6 Z" fill="#228B22" stroke="#000" stroke-width="1"/>
<path d="M454.2,167.6 L454.2,168.6 L454.2,169.6 L454.2,170.6 L454.2,171.6 L454.2,172.6 L454.2,173.6 L454.2,174.6 L454.2,175.6 L454.2,176.6 L454.2,177.6 L454.2,178.6 L454.2,179.6 L454.2,180.6 L454.2,181.6 L454.1,182.6 L454.0,183.6 L453.9,184.6 L453.8,185.6 L453.6,186.6 L453.5,187.6 L453.3,188.6 L453.2,189.6 L453.0,190.6 L452.8,191.6 L452.7,192.6 L452.5,193.6 L452.3,194.6 L452.1,195.6 L451.9,196.6 L451.7,197.6 L451.4,198.6 L451.2,199.6 L451.0,200.6 L450.8,201.6 L450.5,202.6 L450.3,203.6 L450.0,204.6 L449.8,205.6 L449.5,206.6 L449.3,207.6 L449.0,208.6 L448.7,209.6 L448.5,210.6 L448.2,211.6 L448.0,212.6 L447.7,213.6 L447.4,214.6 L447.1,215.6 L446.9,216.6 L446.6,217.6 L446.3,218.6 L446.1,219.6 L445.8,220.6 L445.5,221.6 L445.3,222.6 L445.0,223.6 L444.7,224.6 L444.5,225.6 L444.2,226.6 L444.0,227.6 L443.7,228.6 L443.5,229.6 L443.2,230.6 L443.0,231.6 L442.7,232.6 L442.5,233.6 L442.3,234.6 L442.0,235.6 L441.8,236.6 L441.6,237.6 L441.4,238.6 L441.2,239.6 L441.0,240.6 L440.7,241.6 L440.6,242.6 L440.4,243.6 L440.2,244.6 L440.0,245.6 L439.8,246.6 L439.6,247.6 L439.5,248.6 L439.3,249.6 L439.1,250.6 L439.0,251.6 L438.9,252.6 L438.7,253.6 L438.6,254.6 L438.5,255.6 L438.3,256.6 L438.2,257.6 L438.1,258.6 L438.0,259.6 L438.0,260.6 L437.9,261.6 L437.8,262.6 L437.7,263.6 L437.7,264.6 L437.6,265.6 L437.6,266.6 L437.6,267.6 L437.5,268.6 L437.5,269.6 L437.5,270.6 L437.5,271.6 L437.5,272.6 L437.6,273.6 L437.6,274.6 L437.6,275.6 L437.7,276.6 L437.7,277.6 L437.7,278.6 L437.8,279.6 L437.9,280.6 L437.9,281.6 L438.0,282.6 L438.1,283.6 L438.1,284.6 L438.2,285.6 L438.3,286.6 L438.4,287.6 L438.4,288.6 L438.5,289.6 L438.6,290.6 L438.7,291.6 L438.8,292.6 L438.9,293.6 L439.0,294.6 L439.0,295.6 L439.1,296.6 L439.2,297.6 L439.3,298.6 L439.3,299.6 L439.4,300.6 L439.5,301.6 L439.5,302.6 L439.6,303.6 L439.7,304.6 L439.7,305.6 L439.8,306.6 L439.8,307.6 L439.8,308.6 L439.8,309.6 L439.9,310.6 L439.9,311.6 L439.9,312.6 L439.9,313.6 L439.9,314.6 L439.8,315.6 L439.8,316.6 L439.8,317.6 L439.8,318.6 L439.7,319.6 L439.7,320.6 L439.6,321.6 L439.6,322.6 L439.5,323.6 L439.4,324.6 L439.4,325.6 L439.3,326.6 L439.2,327.6 L439.2,328.6 L439.1,329.6 L439.0,330.6 L438.9,331.6 L438.9,332.6 L438.8,333.6 L438.7,334.6 L438.6,335.6 L438.6,336.6 L438.5,337.6 L438.4,338.6 L438.4,339.6 L438.3,340.6 L438.2,341.6 L438.2,342.6 L438.1,343.6 L438.1,344.6 L438.1,345.6 L438.0,346.6 L438.0,347.6 L438.0,348.6 L438.0,349.6 L438.0,350.6 L438.0,351.6 L438.0,352.6 L438.0,353.6 L438.0,354.6 L438.1,355.6 L438.1,356.6 L438.1,357.6 L438.2,358.6 L438.2,359.6 L438.3,360.6 L438.4,361.6 L438.4,362.6 L438.5,363.6 L438.6,364.6 L438.7,365.6 L438.8,366.6 L438.9,367.6 L439.0,368.6 L439.1,369.6 L439.2,370.6 L439.3,371.6 L439.4,372.6 L439.5,373.6 L439.7,374.6 L439.8,375.6 L439.9,376.6 L440.1,377.6 L440.2,378.6 L440.4,379.6 L440.5,380.6 L440.7,381.6 L440.8,382.6 L441.0,383.6 L441.1,384.6 L441.3,385.6 L441.5,386.6 L441.6,387.6 L441.8,388.6 L442.0,389.6 L442.2,390.6 L442.3,391.6 L442.5,392.6 L442.7,393.6 L442.9,394.6 L443.1,395.6 L443.2,396.6 L443.4,397.6 L443.6,398.6 L443.8,399.6 L444.0,400.6 L444.2,401.6 L444.4,402.6 L444.6,403.6 L444.8,404.6 L444.9,405.6 L445.1,406.6 L445.3,407.6 L445.5,408.6 L445.7,409.6 L445.9,410.6 L446.1,411.6 L446.3,412.6 L446.5,413.6 L446.7,414.6 L446.9,415.6 L447.0,416.6 L447.2,417.6 L447.4,418.6 L447.6,419.6 L447.8,420.6 L448.0,421.6 L448.1,422.6 L448.3,423.6 L448.5,424.6 L448.7,425.6 L448.8,426.6 L449.0,427.6 L449.2,428.6 L449.3,429.6 L449.5,430.6 L449.7,431.6 L449.8,432.6 L450.0,433.6 L450.1,434.6 L450.3,435.6 L450.5,436.6 L450.6,437.6 L450.8,438.6 L450.9,439.6 L451.0,440.6 L451.2,441.6 L451.3,442.6 L451.5,443.6 L451.6,444.6 L451.7,445.6 L451.9,446.6 L452.0,447.6 L452.1,448.6 L452.2,449.6 L452.3,450.6 L452.5,451.6 L452.6,452.6 L452.7,453.6 L452.8,454.6 L452.9,455.6 L453.0,456.6 L453.1,457.6 L453.2,458.6 L453.3,459.6 L453.3,460.6 L453.4,461.6 L453.5,462.6 L453.6,463.6 L453.6,464.6 L453.7,465.6 L453.8,466.6 L453.8,467.6 L453.9,468.6 L453.9,469.6 L454.0,470.6 L454.0,471.6 L454.1,472.6 L454.1,473.6 L454.1,474.6 L454.1,475.6 L454.2,476.6 L454.2,477.4 L454.2,477.4 L454.2,476.6 L454.3,475.6 L454.3,474.6 L454.3,473.6 L454.3,472.6 L454.4,471.6 L454.4,470.6 L454.5,469.6 L454.5,468.6 L454.6,467.6 L454.6,466.6 L454.7,465.6 L454.8,464.6 L454.8,463.6 L454.9,462.6 L455.0,461.6 L455.1,460.6 L455.1,459.6 L455.2,458.6 L455.3,457.6 L455.4,456.6 L455.5,455.6 L455.6,454.6 L455.7,453.6 L455.8,452.6 L455.9,451.6 L456.1,450.6 L456.2,449.6 L456.3,448.6 L456.4,447.6 L456.5,446.6 L456.7,445.6 L456.8,444.6 L456.9,443.6 L457.1,442.6 L457.2,441.6 L457.4,440.6 L457.5,439.6 L457.6,438.6 L457.8,437.6 L457.9,436.6 L458.1,435.6 L458.3,434.6 L458.4,433.6 L458.6,432.6 L458.7,431.6 L458.9,430.6 L459.1,429.6 L459.2,428.6 L459.4,427.6 L459.6,426.6 L459.7,425.6 L459.9,424.6 L460.1,423.6 L460.3,422.6 L460.4,421.6 L460.6,420.6 L460.8,419.6 L461.0,418.6 L461.2,417.6 L461.4,416.6 L461.5,415.6 L461.7,414.6 L461.9,413.6 L462.1,412.6 L462.3,411.6 L462.5,410.6 L462.7,409.6 L462.9,408.6 L463.1,407.6 L463.3,406.6 L463.5,405.6 L463.6,404.6 L463.8,403.6 L464.0,402.6 L464.2,401.6 L464.4,400.6 L464.6,399.6 L464.8,398.6 L465.0,397.6 L465.2,396.6 L465.3,395.6 L465.5,394.6 L465.7,393.6 L465.9,392.6 L466.1,391.6 L466.2,390.6 L466.4,389.6 L466.6,388.6 L466.8,387.6 L466.9,386.6 L467.1,385.6 L467.3,384.6 L467.4,383.6 L467.6,382.6 L467.7,381.6 L467.9,380.6 L468.0,379.6 L468.2,378.6 L468.3,377.6 L468.5,376.6 L468.6,375.6 L468.7,374.6 L468.9,373.6 L469.0,372.6 L469.1,371.6 L469.2,370.6 L469.3,369.6 L469.4,368.6 L469.5,367.6 L469.6,366.6 L469.7,365.6 L469.8,364.6 L469.9,363.6 L470.0,362.6 L470.0,361.6 L470.1,360.6 L470.2,359.6 L470.2,358.6 L470.3,357.6 L470.3,356.6 L470.3,355.6 L470.4,354.6 L470.4,353.6 L470.4,352.6 L470.4,351.6 L470.4,350.6 L470.4,349.6 L470.4,348.6 L470.4,347.6 L470.4,346.6 L470.3,345.6 L470.3,344.6 L470.3,343.6 L470.2,342.6 L470.2,341.6 L470.1,340.6 L470.0,339.6 L470.0,338.6 L469.9,337.6 L469.8,336.6 L469.8,335.6 L469.7,334.6 L469.6,333.6 L469.5,332.6 L469.5,331.6 L469.4,330.6 L469.3,329.6 L469.2,328.6 L469.2,327.6 L469.1,326.6 L469.0,325.6 L469.0,324.6 L468.9,323.6 L468.8,322.6 L468.8,321.6 L468.7,320.6 L468.7,319.6 L468.6,318.6 L468.6,317.6 L468.6,316.6 L468.6,315.6 L468.5,314.6 L468.5,313.6 L468.5,312.6 L468.5,311.6 L468.5,310.6 L468.6,309.6 L468.6,308.6 L468.6,307.6 L468.6,306.6 L468.7,305.6 L468.7,304.6 L468.8,303.6 L468.9,302.6 L468.9,301.6 L469.0,300.6 L469.1,299.6 L469.1,298.6 L469.2,297.6 L469.3,296.6 L469.4,295.6 L469.4,294.6 L469.5,293.6 L469.6,292.6 L469.7,291.6 L469.8,290.6 L469.9,289.6 L470.0,288.6 L470.0,287.6 L470.1,286.6 L470.2,285.6 L470.3,284.6 L470.3,283.6 L470.4,282.6 L470.5,281.6 L470.5,280.6 L470.6,279.6 L470.7,278.6 L470.7,277.6 L470.7,276.6 L470.8,275.6 L470.8,274.6 L470.8,273.6 L470.9,272.6 L470.9,271.6 L470.9,270.6 L470.9,269.6 L470.9,268.6 L470.8,267.6 L470.8,266.6 L470.8,265.6 L470.7,264.6 L470.7,263.6 L470.6,262.6 L470.5,261.6 L470.4,260.6 L470.4,259.6 L470.3,258.6 L470.2,257.6 L470.1,256.6 L469.9,255.6 L469.8,254.6 L469.7,253.6 L469.5,252.6 L469.4,251.6 L469.3,250.6 L469.1,249.6 L468.9,248.6 L468.8,247.6 L468.6,246.6 L468.4,245.6 L468.2,244.6 L468.0,243.6 L467.8,242.6 L467.7,241.6 L467.4,240.6 L467.2,239.6 L467.0,238.6 L466.8,237.6 L466.6,236.6 L466.4,235.6 L466.1,234.6 L465.9,233.6 L465.7,232.6 L465.4,231.6 L465.2,230.6 L464.9,229.6 L464.7,228.6 L464.4,227.6 L464.2,226.6 L463.9,225.6 L463.7,224.6 L463.4,223.6 L463.1,222.6 L462.9,221.6 L462.6,220.6 L462.3,219.6 L462.1,218.6 L461.8,217.6 L461.5,216.6 L461.3,215.6 L461.0,214.6 L460.7,213.6 L460.4,212.6 L460.2,211.6 L459.9,210.6 L459.7,209.6 L459.4,208.6 L459.1,207.6 L458.9,206.6 L458.6,205.6 L458.4,204.6 L458.1,203.6 L457.9,202.6 L457.6,201.6 L457.4,200.6 L457.2,199.6 L457.0,198.6 L456.7,197.6 L456.5,196.6 L456.3,195.6 L456.1,194.6 L455.9,193.6 L455.7,192.6 L455.6,191.6 L455.4,190.6 L455.2,189.6 L455.1,188.6 L454.9,187.6 L454.8,186.6 L454.6,185.6 L454.5,184.6 L454.4,183.6 L454.3,182.6 L454.2,181.6 L454.2,180.6 L454.2,179.6 L454.2,178.6 L454.2,177.6 L454.2,176.6 L454.2,175.6 L454.2,174.6 L454.2,173.6 L454.2,172.6 L454.2,171.6 L454.2,170.6 L454.2,169.6 L454.2,168.6 L454.2,167.6 Z" fill="#228B22" stroke="#000" stroke-width="1"/>
<path d="M618.7,51.1 L618.7,52.1 L618.6,53.1 L618.6,54.1 L618.6,55.1 L618.5,56.1 L618.5,57.1 L618.5,58.1 L618.4,59.1 L618.4,60.1 L618.4,61.1 L618.3,62.1 L618.3,63.1 L618.3,64.1 L618.2,65.1 L618.2,66.1 L618.2,67.1 L618.1,68.1 L618.1,69.1 L618.1,70.1 L618.0,71.1 L618.0,72.1 L618.0,73.1 L617.9,74.1 L617.9,75.1 L617.9,76.1 L617.8,77.1 L617.8,78.1 L617.7,79.1 L617.7,80.1 L617.7,81.1 L617.6,82.1 L617.6,83.1 L617.5,84.1 L617.5,85.1 L617.5,86.1 L617.4,87.1 L617.4,88.1 L617.3,89.1 L617.3,90.1 L617.2,91.1 L617.2,92.1 L617.1,93.1 L617.1,94.1 L617.0,95.1 L617.0,96.1 L616.9,97.1 L616.9,98.1 L616.8,99.1 L616.8,100.1 L616.7,101.1 L616.7,102.1 L616.6,103.1 L616.5,104.1 L616.5,105.1 L616.4,106.1 L616.3,107.1 L616.3,108.1 L616.2,109.1 L616.1,110.1 L616.1,111.1 L616.0,112.1 L615.9,113.1 L615.8,114.1 L615.8,115.1 L615.7,116.1 L615.6,117.1 L615.5,118.1 L615.4,119.1 L615.3,120.1 L615.2,121.1 L615.1,122.1 L615.1,123.1 L615.0,124.1 L614.9,125.1 L614.8,126.1 L614.7,127.1 L614.6,128.1 L614.4,129.1 L614.3,130.1 L614.2,131.1 L614.1,132.1 L614.0,133.1 L613.9,134.1 L613.8,135.1 L613.6,136.1 L613.5,137.1 L613.4,138.1 L613.3,139.1 L613.1,140.1 L613.0,141.1 L612.8,142.1 L612.7,143.1 L612.6,144.1 L612.4,145.1 L612.3,146.1 L612.1,147.1 L612.0,148.1 L611.8,149.1 L611.6,150.1 L611.5,151.1 L611.3,152.1 L611.2,153.1 L611.0,154.1 L610.8,155.1 L610.6,156.1 L610.4,157.1 L610.3,158.1 L610.1,159.1 L609.9,160.1 L609.7,161.1 L609.5,162.1 L609.3,163.1 L609.1,164.1 L608.9,165.1 L608.7,166.1 L608.5,167.1 L608.2,168.1 L608.0,169.1 L607.8,170.1 L607.6,171.1 L607.3,172.1 L607.1,173.1 L606.9,174.1 L606.6,175.1 L606.4,176.1 L606.1,177.1 L605.9,178.1 L605.6,179.1 L605.4,180.1 L605.1,181.1 L604.8,182.1 L604.6,183.1 L604.3,184.1 L604.0,185.1 L603.8,186.1 L603.5,187.1 L603.2,188.1 L603.0,189.1 L602.7,190.1 L602.4,191.1 L602.1,192.1 L601.8,193.1 L601.6,194.1 L601.3,195.1 L601.0,196.1 L600.7,197.1 L600.4,198.1 L600.1,199.1 L599.8,200.1 L599.5,201.1 L599.2,202.1 L599.0,203.1 L598.7,204.1 L598.4,205.1 L598.1,206.1 L597.8,207.1 L597.5,208.1 L597.2,209.1 L596.9,210.1 L596.6,211.1 L596.4,212.1 L596.1,213.1 L595.8,214.1 L595.5,215.1 L595.2,216.1 L594.9,217.1 L594.6,218.1 L594.4,219.1 L594.1,220.1 L593.8,221.1 L593.5,222.1 L593.3,223.1 L593.0,224.1 L592.7,225.1 L592.5,226.1 L592.2,227.1 L591.9,228.1 L591.7,229.1 L591.4,230.1 L591.2,231.1 L590.9,232.1 L590.6,233.1 L590.4,234.1 L590.2,235.1 L589.9,236.1 L589.7,237.1 L589.5,238.1 L589.2,239.1 L589.0,240.1 L588.8,241.1 L588.6,242.1 L588.3,243.1 L588.1,244.1 L587.9,245.1 L587.7,246.1 L587.5,247.1 L587.3,248.1 L587.1,249.1 L587.0,250.1 L586.8,251.1 L586.6,252.1 L586.4,253.1 L586.3,254.1 L586.1,255.1 L586.0,256.1 L585.8,257.1 L585.7,258.1 L585.5,259.1 L585.4,260.1 L585.3,261.1 L585.2,262.1 L585.1,263.1 L584.9,264.1 L584.8,265.1 L584.8,266.1 L584.7,267.1 L584.6,268.1 L584.5,269.1 L584.4,270.1 L584.4,271.1 L584.3,272.1 L584.3,273.1 L584.2,274.1 L584.2,275.1 L584.2,276.1 L584.2,277.1 L584.2,278.1 L584.2,279.1 L584.2,280.1 L584.2,281.1 L584.2,282.1 L584.2,283.1 L584.3,284.1 L584.3,285.1 L584.4,286.1 L584.4,287.1 L584.5,288.1 L584.6,289.1 L584.6,290.1 L584.7,291.1 L584.8,292.1 L584.9,293.1 L585.1,294.1 L585.2,295.1 L585.3,296.1 L585.5,297.1 L585.6,298.1 L585.8,299.1 L585.9,300.1 L586.1,301.1 L586.3,302.1 L586.5,303.1 L586.7,304.1 L586.9,305.1 L587.1,306.1 L587.3,307.1 L587.6,308.1 L587.8,309.1 L588.0,310.1 L588.3,311.1 L588.5,312.1 L588.8,313.1 L589.1,314.1 L589.4,315.1 L589.6,316.1 L589.9,317.1 L590.2,318.1 L590.5,319.1 L590.8,320.1 L591.1,321.1 L591.4,322.1 L591.7,323.1 L592.0,324.1 L592.3,325.1 L592.6,326.1 L593.0,327.1 L593.3,328.1 L593.6,329.1 L593.9,330.1 L594.3,331.1 L594.6,332.1 L594.9,333.1 L595.3,334.1 L595.6,335.1 L595.9,336.1 L596.3,337.1 L596.6,338.1 L596.9,339.1 L597.3,340.1 L597.6,341.1 L598.0,342.1 L598.3,343.1 L598.6,344.1 L599.0,345.1 L599.3,346.1 L599.7,347.1 L600.0,348.1 L600.3,349.1 L600.7,350.1 L601.0,351.1 L601.4,352.1 L601.7,353.1 L602.0,354.1 L602.4,355.1 L602.7,356.1 L603.0,357.1 L603.3,358.1 L603.7,359.1 L604.0,360.1 L604.3,361.1 L604.6,362.1 L604.9,363.1 L605.3,364.1 L605.6,365.1 L605.9,366.1 L606.2,367.1 L606.5,368.1 L606.8,369.1 L607.1,370.1 L607.4,371.1 L607.6,372.1 L607.9,373.1 L608.2,374.1 L608.5,375.1 L608.8,376.1 L609.0,377.1 L609.3,378.1 L609.6,379.1 L609.8,380.1 L610.1,381.1 L610.4,382.1 L610.6,383.1 L610.9,384.1 L611.1,385.1 L611.3,386.1 L611.6,387.1 L611.8,388.1 L612.0,389.1 L612.3,390.1 L612.5,391.1 L612.7,392.1 L612.9,393.1 L613.2,394.1 L613.4,395.1 L613.6,396.1 L613.8,397.1 L614.0,398.1 L614.2,399.1 L614.4,400.1 L614.5,401.1 L614.7,402.1 L614.9,403.1 L615.1,404.1 L615.3,405.1 L615.4,406.1 L615.6,407.1 L615.8,408.1 L615.9,409.1 L616.1,410.1 L616.2,411.1 L616.4,412.1 L616.5,413.1 L616.6,414.1 L616.8,415.1 L616.9,416.1 L617.0,417.1 L617.1,418.1 L617.3,419.1 L617.4,420.1 L617.5,421.1 L617.6,422.1 L617.7,423.1 L617.8,424.1 L617.9,425.1 L618.0,426.1 L618.0,427.1 L618.1,428.1 L618.2,429.1 L618.3,430.1 L618.3,431.1 L618.4,432.1 L618.4,433.1 L618.5,434.1 L618.5,435.1 L618.6,436.1 L618.6,437.1 L618.6,438.1 L618.7,439.1 L618.7,440.1 L618.7,440.5 L618.7,440.5 L618.7,440.1 L618.7,439.1 L618.8,438.1 L618.8,437.1 L618.8,436.1 L618.9,435.1 L618.9,434.1 L619.0,433.1 L619.0,432.1 L619.1,431.1 L619.1,430.1 L619.2,429.1 L619.3,428.1 L619.4,427.1 L619.4,426.1 L619.5,425.1 L619.6,424.1 L619.7,423.1 L619.8,422.1 L619.9,421.1 L620.0,420.1 L620.1,419.1 L620.3,418.1 L620.4,417.1 L620.5,416.1 L620.6,415.1 L620.8,414.1 L620.9,413.1 L621.0,412.1 L621.2,411.1 L621.3,410.1 L621.5,409.1 L621.6,408.1 L621.8,407.1 L622.0,406.1 L622.1,405.1 L622.3,404.1 L622.5,403.1 L622.7,402.1 L622.9,401.1 L623.0,400.1 L623.2,399.1 L623.4,398.1 L623.6,397.1 L623.8,396.1 L624.0,395.1 L624.2,394.1 L624.5,393.1 L624.7,392.1 L624.9,391.1 L625.1,390.1 L625.4,389.1 L625.6,388.1 L625.8,387.1 L626.1,386.1 L626.3,385.1 L626.5,384.1 L626.8,383.1 L627.0,382.1 L627.3,381.1 L627.6,380.1 L627.8,379.1 L628.1,378.1 L628.4,377.1 L628.6,376.1 L628.9,375.1 L629.2,374.1 L629.5,373.1 L629.8,372.1 L630.0,371.1 L630.3,370.1 L630.6,369.1 L630.9,368.1 L631.2,367.1 L631.5,366.1 L631.8,365.1 L632.1,364.1 L632.5,363.1 L632.8,362.1 L633.1,361.1 L633.4,360.1 L633.7,359.1 L634.1,358.1 L634.4,357.1 L634.7,356.1 L635.0,355.1 L635.4,354.1 L635.7,353.1 L636.0,352.1 L636.4,351.1 L636.7,350.1 L637.1,349.1 L637.4,348.1 L637.7,347.1 L638.1,346.1 L638.4,345.1 L638.8,344.1 L639.1,343.1 L639.4,342.1 L639.8,341.1 L640.1,340.1 L640.5,339.1 L640.8,338.1 L641.1,337.1 L641.5,336.1 L641.8,335.1 L642.1,334.1 L642.5,333.1 L642.8,332.1 L643.1,331.1 L643.5,330.1 L643.8,329.1 L644.1,328.1 L644.4,327.1 L644.8,326.1 L645.1,325.1 L645.4,324.1 L645.7,323.1 L646.0,322.1 L646.3,321.1 L646.6,320.1 L646.9,319.1 L647.2,318.1 L647.5,317.1 L647.8,316.1 L648.0,315.1 L648.3,314.1 L648.6,313.1 L648.9,312.1 L649.1,311.1 L649.4,310.1 L649.6,309.1 L649.8,308.1 L650.1,307.1 L650.3,306.1 L650.5,305.1 L650.7,304.1 L650.9,303.1 L651.1,302.1 L651.3,301.1 L651.5,300.1 L651.6,299.1 L651.8,298.1 L651.9,297.1 L652.1,296.1 L652.2,295.1 L652.3,294.1 L652.5,293.1 L652.6,292.1 L652.7,291.1 L652.8,290.1 L652.8,289.1 L652.9,288.1 L653.0,287.1 L653.0,286.1 L653.1,285.1 L653.1,284.1 L653.2,283.1 L653.2,282.1 L653.2,281.1 L653.2,280.1 L653.2,279.1 L653.2,278.1 L653.2,277.1 L653.2,276.1 L653.2,275.1 L653.2,274.1 L653.1,273.1 L653.1,272.1 L653.0,271.1 L653.0,270.1 L652.9,269.1 L652.8,268.1 L652.7,267.1 L652.6,266.1 L652.6,265.1 L652.5,264.1 L652.3,263.1 L652.2,262.1 L652.1,261.1 L652.0,260.1 L651.9,259.1 L651.7,258.1 L651.6,257.1 L651.4,256.1 L651.3,255.1 L651.1,254.1 L651.0,253.1 L650.8,252.1 L650.6,251.1 L650.4,250.1 L650.3,249.1 L650.1,248.1 L649.9,247.1 L649.7,246.1 L649.5,245.1 L649.3,244.1 L649.1,243.1 L648.8,242.1 L648.6,241.1 L648.4,240.1 L648.2,239.1 L647.9,238.1 L647.7,237.1 L647.5,236.1 L647.2,235.1 L647.0,234.1 L646.8,233.1 L646.5,232.1 L646.2,231.1 L646.0,230.1 L645.7,229.1 L645.5,228.1 L645.2,227.1 L644.9,226.1 L644.7,225.1 L644.4,224.1 L644.1,223.1 L643.9,222.1 L643.6,221.1 L643.3,220.1 L643.0,219.1 L642.8,218.1 L642.5,217.1 L642.2,216.1 L641.9,215.1 L641.6,214.1 L641.3,213.1 L641.0,212.1 L640.8,211.1 L640.5,210.1 L640.2,209.1 L639.9,208.1 L639.6,207.1 L639.3,206.1 L639.0,205.1 L638.7,204.1 L638.4,203.1 L638.2,202.1 L637.9,201.1 L637.6,200.1 L637.3,199.1 L637.0,198.1 L636.7,197.1 L636.4,196.1 L636.1,195.1 L635.8,194.1 L635.6,193.1 L635.3,192.1 L635.0,191.1 L634.7,190.1 L634.4,189.1 L634.2,188.1 L633.9,187.1 L633.6,186.1 L633.4,185.1 L633.1,184.1 L632.8,183.1 L632.6,182.1 L632.3,181.1 L632.0,180.1 L631.8,179.1 L631.5,178.1 L631.3,177.1 L631.0,176.1 L630.8,175.1 L630.5,174.1 L630.3,173.1 L630.1,172.1 L629.8,171.1 L629.6,170.1 L629.4,169.1 L629.2,168.1 L628.9,167.1 L628.7,166.1 L628.5,165.1 L628.3,164.1 L628.1,163.1 L627.9,162.1 L627.7,161.1 L627.5,160.1 L627.3,159.1 L627.1,158.1 L627.0,157.1 L626.8,156.1 L626.6,155.1 L626.4,154.1 L626.2,153.1 L626.1,152.1 L625.9,151.1 L625.8,150.1 L625.6,149.1 L625.4,148.1 L625.3,147.1 L625.1,146.1 L625.0,145.1 L624.8,144.1 L624.7,143.1 L624.6,142.1 L624.4,141.1 L624.3,140.1 L624.1,139.1 L624.0,138.1 L623.9,137.1 L623.8,136.1 L623.6,135.1 L623.5,134.1 L623.4,133.1 L623.3,132.1 L623.2,131.1 L623.1,130.1 L623.0,129.1 L622.8,128.1 L622.7,127.1 L622.6,126.1 L622.5,125.1 L622.4,124.1 L622.3,123.1 L622.3,122.1 L622.2,121.1 L622.1,120.1 L622.0,119.1 L621.9,118.1 L621.8,117.1 L621.7,116.1 L621.6,115.1 L621.6,114.1 L621.5,113.1 L621.4,112.1 L621.3,111.1 L621.3,110.1 L621.2,109.1 L621.1,108.1 L621.1,107.1 L621.0,106.1 L620.9,105.1 L620.9,104.1 L620.8,103.1 L620.7,102.1 L620.7,101.1 L620.6,100.1 L620.6,99.1 L620.5,98.1 L620.5,97.1 L620.4,96.1 L620.4,95.1 L620.3,94.1 L620.3,93.1 L620.2,92.1 L620.2,91.1 L620.1,90.1 L620.1,89.1 L620.0,88.1 L620.0,87.1 L619.9,86.1 L619.9,85.1 L619.9,84.1 L619.8,83.1 L619.8,82.1 L619.7,81.1 L619.7,80.1 L619.7,79.1 L619.6,78.1 L619.6,77.1 L619.5,76.1 L619.5,75.1 L619.5,74.1 L619.4,73.1 L619.4,72.1 L619.4,71.1 L619.3,70.1 L619.3,69.1 L619.3,68.1 L619.2,67.1 L619.2,66.1 L619.2,65.1 L619.1,64.1 L619.1,63.1 L619.1,62.1 L619.0,61.1 L619.0,60.1 L619.0,59.1 L618.9,58.1 L618.9,57.1 L618.9,56.1 L618.8,55.1 L618.8,54.1 L618.8,53.1 L618.7,52.1 L618.7,51.1 Z" fill="#228B22" stroke="#000" stroke-width="1"/>
<path d="M719.0,114.2 L718.9,115.2 L718.9,116.2 L718.8,117.2 L718.7,118.2 L718.7,119.2 L718.6,120.2 L718.6,121.2 L718.5,122.2 L718.4,123.2 L718.4,124.2 L718.3,125.2 L718.3,126.2 L718.2,127.2 L718.2,128.2 L718.1,129.2 L718.1,130.2 L718.0,131.2 L718.0,132.2 L718.0,133.2 L717.9,134.2 L717.9,135.2 L717.8,136.2 L717.8,137.2 L717.8,138.2 L717.7,139.2 L717.7,140.2 L717.6,141.2 L717.6,142.2 L717.6,143.2 L717.5,144.2 L717.5,145.2 L717.5,146.2 L717.4,147.2 L717.4,148.2 L717.3,149.2 L717.3,150.2 L717.3,151.2 L717.2,152.2 L717.2,153.2 L717.1,154.2 L717.1,155.2 L717.0,156.2 L717.0,157.2 L716.9,158.2 L716.9,159.2 L716.9,160.2 L716.8,161.2 L716.7,162.2 L716.7,163.2 L716.6,164.2 L716.6,165.2 L716.5,166.2 L716.5,167.2 L716.4,168.2 L716.3,169.2 L716.3,170.2 L716.2,171.2 L716.1,172.2 L716.1,173.2 L716.0,174.2 L715.9,175.2 L715.8,176.2 L715.7,177.2 L715.6,178.2 L715.6,179.2 L715.5,180.2 L715.4,181.2 L715.3,182.2 L715.2,183.2 L715.1,184.2 L714.9,185.2 L714.8,186.2 L714.7,187.2 L714.6,188.2 L714.5,189.2 L714.3,190.2 L714.2,191.2 L714.1,192.2 L713.9,193.2 L713.8,194.2 L713.7,195.2 L713.5,196.2 L713.3,197.2 L713.2,198.2 L713.0,199.2 L712.8,200.2 L712.7,201.2 L712.5,202.2 L712.3,203.2 L712.1,204.2 L711.9,205.2 L711.7,206.2 L711.5,207.2 L711.3,208.2 L711.1,209.2 L710.9,210.2 L710.7,211.2 L710.4,212.2 L710.2,213.2 L710.0,214.2 L709.7,215.2 L709.5,216.2 L709.2,217.2 L709.0,218.2 L708.7,219.2 L708.5,220.2 L708.2,221.2 L707.9,222.2 L707.7,223.2 L707.4,224.2 L707.1,225.2 L706.8,226.2 L706.5,227.2 L706.2,228.2 L705.9,229.2 L705.6,230.2 L705.3,231.2 L705.0,232.2 L704.7,233.2 L704.4,234.2 L704.1,235.2 L703.8,236.2 L703.4,237.2 L703.1,238.2 L702.8,239.2 L702.4,240.2 L702.1,241.2 L701.8,242.2 L701.4,243.2 L701.1,244.2 L700.7,245.2 L700.4,246.2 L700.0,247.2 L699.7,248.2 L699.3,249.2 L698.9,250.2 L698.6,251.2 L698.2,252.2 L697.8,253.2 L697.4,254.2 L697.1,255.2 L696.7,256.2 L696.3,257.2 L695.9,258.2 L695.5,259.2 L695.1,260.2 L694.7,261.2 L694.4,262.2 L694.0,263.2 L693.6,264.2 L693.2,265.2 L692.8,266.2 L692.4,267.2 L692.0,268.2 L691.6,269.2 L691.2,270.2 L690.8,271.2 L690.4,272.2 L690.0,273.2 L689.6,274.2 L689.2,275.2 L688.8,276.2 L688.5,277.2 L688.1,278.2 L687.7,279.2 L687.3,280.2 L687.0,281.2 L686.6,282.2 L686.2,283.2 L685.9,284.2 L685.5,285.2 L685.2,286.2 L684.9,287.2 L684.5,288.2 L684.2,289.2 L683.9,290.2 L683.6,291.2 L683.3,292.2 L683.0,293.2 L682.7,294.2 L682.4,295.2 L682.1,296.2 L681.9,297.2 L681.6,298.2 L681.4,299.2 L681.2,300.2 L680.9,301.2 L680.7,302.2 L680.5,303.2 L680.4,304.2 L680.2,305.2 L680.0,306.2 L679.9,307.2 L679.7,308.2 L679.6,309.2 L679.5,310.2 L679.4,311.2 L679.3,312.2 L679.2,313.2 L679.1,314.2 L679.1,315.2 L679.0,316.2 L679.0,317.2 L678.9,318.2 L678.9,319.2 L678.9,320.2 L678.9,321.2 L679.0,322.2 L679.0,323.2 L679.0,324.2 L679.1,325.2 L679.1,326.2 L679.2,327.2 L679.3,328.2 L679.4,329.2 L679.5,330.2 L679.6,331.2 L679.8,332.2 L679.9,333.2 L680.1,334.2 L680.2,335.2 L680.4,336.2 L680.6,337.2 L680.8,338.2 L681.0,339.2 L681.2,340.2 L681.5,341.2 L681.7,342.2 L682.0,343.2 L682.2,344.2 L682.5,345.2 L682.8,346.2 L683.1,347.2 L683.4,348.2 L683.7,349.2 L684.0,350.2 L684.4,351.2 L684.7,352.2 L685.1,353.2 L685.5,354.2 L685.8,355.2 L686.2,356.2 L686.6,357.2 L687.0,358.2 L687.4,359.2 L687.9,360.2 L688.3,361.2 L688.7,362.2 L689.1,363.2 L689.6,364.2 L690.0,365.2 L690.5,366.2 L690.9,367.2 L691.4,368.2 L691.8,369.2 L692.3,370.2 L692.8,371.2 L693.2,372.2 L693.7,373.2 L694.2,374.2 L694.7,375.2 L695.1,376.2 L695.6,377.2 L696.1,378.2 L696.5,379.2 L697.0,380.2 L697.5,381.2 L698.0,382.2 L698.4,383.2 L698.9,384.2 L699.4,385.2 L699.8,386.2 L700.3,387.2 L700.7,388.2 L701.2,389.2 L701.6,390.2 L702.1,391.2 L702.5,392.2 L703.0,393.2 L703.4,394.2 L703.8,395.2 L704.3,396.2 L704.7,397.2 L705.1,398.2 L705.5,399.2 L705.9,400.2 L706.3,401.2 L706.8,402.2 L707.2,403.2 L707.5,404.2 L707.9,405.2 L708.3,406.2 L708.7,407.2 L709.1,408.2 L709.4,409.2 L709.8,410.2 L710.1,411.2 L710.5,412.2 L710.8,413.2 L711.2,414.2 L711.5,415.2 L711.8,416.2 L712.1,417.2 L712.4,418.2 L712.7,419.2 L713.0,420.2 L713.3,421.2 L713.6,422.2 L713.9,423.2 L714.1,424.2 L714.4,425.2 L714.6,426.2 L714.9,427.2 L715.1,428.2 L715.3,429.2 L715.5,430.2 L715.7,431.2 L715.9,432.2 L716.1,433.2 L716.3,434.2 L716.5,435.2 L716.6,436.2 L716.8,437.2 L716.9,438.2 L717.1,439.2 L717.2,440.2 L717.3,441.2 L717.5,442.2 L717.6,443.2 L717.7,444.2 L717.8,445.2 L717.9,446.2 L718.0,447.2 L718.1,448.2 L718.2,449.2 L718.2,450.2 L718.3,451.2 L718.4,452.2 L718.4,453.2 L718.5,454.2 L718.6,455.2 L718.6,456.2 L718.6,457.2 L718.7,458.2 L718.7,459.2 L718.8,460.2 L718.8,461.2 L718.8,462.2 L718.8,463.2 L718.9,464.2 L718.9,465.2 L718.9,466.2 L718.9,467.2 L718.9,468.2 L718.9,469.2 L719.0,470.2 L719.0,471.2 L719.0,472.2 L719.0,473.2 L719.0,474.2 L719.0,475.2 L719.0,476.2 L719.0,477.2 L719.0,478.2 L719.0,479.2 L719.0,480.2 L719.0,480.5 L719.0,480.5 L719.0,480.2 L719.0,479.2 L719.0,478.2 L719.0,477.2 L719.0,476.2 L719.0,475.2 L719.0,474.2 L719.0,473.2 L719.0,472.2 L719.0,471.2 L719.0,470.2 L719.1,469.2 L719.1,468.2 L719.1,467.2 L719.1,466.2 L719.1,465.2 L719.1,464.2 L719.2,463.2 L719.2,462.2 L719.2,461.2 L719.2,460.2 L719.3,459.2 L719.3,458.2 L719.4,457.2 L719.4,456.2 L719.4,455.2 L719.5,454.2 L719.6,453.2 L719.6,452.2 L719.7,451.2 L719.8,450.2 L719.8,449.2 L719.9,448.2 L720.0,447.2 L720.1,446.2 L720.2,445.2 L720.3,444.2 L720.4,443.2 L720.5,442.2 L720.7,441.2 L720.8,440.2 L720.9,439.2 L721.1,438.2 L721.2,437.2 L721.4,436.2 L721.5,435.2 L721.7,434.2 L721.9,433.2 L722.1,432.2 L722.3,431.2 L722.5,430.2 L722.7,429.2 L722.9,428.2 L723.1,427.2 L723.4,426.2 L723.6,425.2 L723.9,424.2 L724.1,423.2 L724.4,422.2 L724.7,421.2 L725.0,420.2 L725.3,419.2 L725.6,418.2 L725.9,417.2 L726.2,416.2 L726.5,415.2 L726.8,414.2 L727.2,413.2 L727.5,412.2 L727.9,411.2 L728.2,410.2 L728.6,409.2 L728.9,408.2 L729.3,407.2 L729.7,406.2 L730.1,405.2 L730.5,404.2 L730.8,403.2 L731.2,402.2 L731.7,401.2 L732.1,400.2 L732.5,399.2 L732.9,398.2 L733.3,397.2 L733.7,396.2 L734.2,395.2 L734.6,394.2 L735.0,393.2 L735.5,392.2 L735.9,391.2 L736.4,390.2 L736.8,389.2 L737.3,388.2 L737.7,387.2 L738.2,386.2 L738.6,385.2 L739.1,384.2 L739.6,383.2 L740.0,382.2 L740.5,381.2 L741.0,380.2 L741.5,379.2 L741.9,378.2 L742.4,377.2 L742.9,376.2 L743.3,375.2 L743.8,374.2 L744.3,373.2 L744.8,372.2 L745.2,371.2 L745.7,370.2 L746.2,369.2 L746.6,368.2 L747.1,367.2 L747.5,366.2 L748.0,365.2 L748.4,364.2 L748.9,363.2 L749.3,362.2 L749.7,361.2 L750.1,360.2 L750.6,359.2 L751.0,358.2 L751.4,357.2 L751.8,356.2 L752.2,355.2 L752.5,354.2 L752.9,353.2 L753.3,352.2 L753.6,351.2 L754.0,350.2 L754.3,349.2 L754.6,348.2 L754.9,347.2 L755.2,346.2 L755.5,345.2 L755.8,344.2 L756.0,343.2 L756.3,342.2 L756.5,341.2 L756.8,340.2 L757.0,339.2 L757.2,338.2 L757.4,337.2 L757.6,336.2 L757.8,335.2 L757.9,334.2 L758.1,333.2 L758.2,332.2 L758.4,331.2 L758.5,330.2 L758.6,329.2 L758.7,328.2 L758.8,327.2 L758.9,326.2 L758.9,325.2 L759.0,324.2 L759.0,323.2 L759.0,322.2 L759.1,321.2 L759.1,320.2 L759.1,319.2 L759.1,318.2 L759.0,317.2 L759.0,316.2 L758.9,315.2 L758.9,314.2 L758.8,313.2 L758.7,312.2 L758.6,311.2 L758.5,310.2 L758.4,309.2 L758.3,308.2 L758.1,307.2 L758.0,306.2 L757.8,305.2 L757.6,304.2 L757.5,303.2 L757.3,302.2 L757.1,301.2 L756.8,300.2 L756.6,299.2 L756.4,298.2 L756.1,297.2 L755.9,296.2 L755.6,295.2 L755.3,294.2 L755.0,293.2 L754.7,292.2 L754.4,291.2 L754.1,290.2 L753.8,289.2 L753.5,288.2 L753.1,287.2 L752.8,286.2 L752.5,285.2 L752.1,284.2 L751.8,283.2 L751.4,282.2 L751.0,281.2 L750.7,280.2 L750.3,279.2 L749.9,278.2 L749.5,277.2 L749.2,276.2 L748.8,275.2 L748.4,274.2 L748.0,273.2 L747.6,272.2 L747.2,271.2 L746.8,270.2 L746.4,269.2 L746.0,268.2 L745.6,267.2 L745.2,266.2 L744.8,265.2 L744.4,264.2 L744.0,263.2 L743.6,262.2 L743.3,261.2 L742.9,260.2 L742.5,259.2 L742.1,258.2 L741.7,257.2 L741.3,256.2 L740.9,255.2 L740.6,254.2 L740.2,253.2 L739.8,252.2 L739.4,251.2 L739.1,250.2 L738.7,249.2 L738.3,248.2 L738.0,247.2 L737.6,246.2 L737.3,245.2 L736.9,244.2 L736.6,243.2 L736.2,242.2 L735.9,241.2 L735.6,240.2 L735.2,239.2 L734.9,238.2 L734.6,237.2 L734.2,236.2 L733.9,235.2 L733.6,234.2 L733.3,233.2 L733.0,232.2 L732.7,231.2 L732.4,230.2 L732.1,229.2 L731.8,228.2 L731.5,227.2 L731.2,226.2 L730.9,225.2 L730.6,224.2 L730.3,223.2 L730.1,222.2 L729.8,221.2 L729.5,220.2 L729.3,219.2 L729.0,218.2 L728.8,217.2 L728.5,216.2 L728.3,215.2 L728.0,214.2 L727.8,213.2 L727.6,212.2 L727.3,211.2 L727.1,210.2 L726.9,209.2 L726.7,208.2 L726.5,207.2 L726.3,206.2 L726.1,205.2 L725.9,204.2 L725.7,203.2 L725.5,202.2 L725.3,201.2 L725.2,200.2 L725.0,199.2 L724.8,198.2 L724.7,197.2 L724.5,196.2 L724.3,195.2 L724.2,194.2 L724.1,193.2 L723.9,192.2 L723.8,191.2 L723.7,190.2 L723.5,189.2 L723.4,188.2 L723.3,187.2 L723.2,186.2 L723.1,185.2 L722.9,184.2 L722.8,183.2 L722.7,182.2 L722.6,181.2 L722.5,180.2 L722.4,179.2 L722.4,178.2 L722.3,177.2 L722.2,176.2 L722.1,175.2 L722.0,174.2 L721.9,173.2 L721.9,172.2 L721.8,171.2 L721.7,170.2 L721.7,169.2 L721.6,168.2 L721.5,167.2 L721.5,166.2 L721.4,165.2 L721.4,164.2 L721.3,163.2 L721.3,162.2 L721.2,161.2 L721.1,160.2 L721.1,159.2 L721.1,158.2 L721.0,157.2 L721.0,156.2 L720.9,155.2 L720.9,154.2 L720.8,153.2 L720.8,152.2 L720.7,151.2 L720.7,150.2 L720.7,149.2 L720.6,148.2 L720.6,147.2 L720.5,146.2 L720.5,145.2 L720.5,144.2 L720.4,143.2 L720.4,142.2 L720.4,141.2 L720.3,140.2 L720.3,139.2 L720.2,138.2 L720.2,137.2 L720.2,136.2 L720.1,135.2 L720.1,134.2 L720.0,133.2 L720.0,132.2 L720.0,131.2 L719.9,130.2 L719.9,129.2 L719.8,128.2 L719.8,127.2 L719.7,126.2 L719.7,125.2 L719.6,124.2 L719.6,123.2 L719.5,122.2 L719.4,121.2 L719.4,120.2 L719.3,119.2 L719.3,118.2 L719.2,117.2 L719.1,116.2 L719.1,115.2 L719.0,114.2 Z" fill="#228B22" stroke="#000" stroke-width="1"/>
<line x1="81.2" y1="90.50" x2="98.0" y2="90.50" stroke="#FFFF00" stroke-width="1.4"/>
<line x1="81.2" y1="113.60" x2="98.0" y2="113.60" stroke="#FFFF00" stroke-width="1.4"/>
<line x1="81.2" y1="116.80" x2="98.0" y2="116.80" stroke="#FFFF00" stroke-width="1.4"/>
<line x1="81.2" y1="126.60" x2="98.0" y2="126.60" stroke="#FFFF00" stroke-width="1.4"/>
<line x1="81.2" y1="127.80" x2="98.0" y2="127.80" stroke="#FFFF00" stroke-width="1.4"/>
<line x1="81.2" y1="137.40" x2="98.0" y2="137.40" stroke="#FFFF00" stroke-width="1.4"/>
<line x1="81.2" y1="140.80" x2="98.0" y2="140.80" stroke="#FFFF00" stroke-width="1.4"/>
<line x1="81.2" y1="149.60" x2="98.0" y2="149.60" stroke="#FFFF00" stroke-width="1.4"/>
<line x1="81.2" y1="153.80" x2="98.0" y2="153.80" stroke="#FFFF00" stroke-width="1.4"/>
<line x1="81.2" y1="157.80" x2="98.0" y2="157.80" stroke="#FFFF00" stroke-width="1.4"/>
<line x1="81.2" y1="159.00" x2="98.0" y2="159.00" stroke="#FFFF00" stroke-width="1.4"/>
<line x1="81.2" y1="164.40" x2="98.0" y2="164.40" stroke="#FFFF00" stroke-width="1.4"/>
<line x1="81.2" y1="169.00" x2="98.0" y2="169.00" stroke="#FFFF00" stroke-width="1.4"/>
<line x1="81.2" y1="213.70" x2="98.0" y2="213.70" stroke="#FFFF00" stroke-width="1.4"/>
<line x1="81.2" y1="219.20" x2="98.0" y2="219.20" stroke="#FFFF00" stroke-width="1.4"/>
<line x1="81.2" y1="223.50" x2="98.0" y2="223.50" stroke="#FFFF00" stroke-width="1.4"/>
<line x1="181.6" y1="108.00" x2="198.0" y2="108.00" stroke="#FFFF00" stroke-width="1.4"/>
<line x1="181.6" y1="123.30" x2="198.0" y2="123.30" stroke="#FFFF00" stroke-width="1.4"/>
<line x1="181.6" y1="136.30" x2="198.0" y2="136.30" stroke="#FFFF00" stroke-width="1.4"/>
<line x1="181.6" y1="145.10" x2="198.0" y2="145.10" stroke="#FFFF00" stroke-width="1.4"/>
<line x1="181.6" y1="160.30" x2="198.0" y2="160.30" stroke="#FFFF00" stroke-width="1.4"/>
<line x1="181.6" y1="173.10" x2="198.0" y2="173.10" stroke="#FFFF00" stroke-width="1.4"/>
<line x1="181.6" y1="178.60" x2="198.0" y2="178.60" stroke="#FFFF00" stroke-width="1.4"/>
<line x1="181.6" y1="182.20" x2="198.0" y2="182.20" stroke="#FFFF00" stroke-width="1.4"/>
<line x1="181.6" y1="190.80" x2="198.0" y2="190.80" stroke="#FFFF00" stroke-width="1.4"/>
<line x1="181.6" y1="196.40" x2="198.0" y2="196.40" stroke="#FFFF00" stroke-width="1.4"/>
<line x1="181.6" y1="201.60" x2="198.0" y2="201.60" stroke="#FFFF00" stroke-width="1.4"/>
<line x1="181.6" y1="206.10" x2="198.0" y2="206.10" stroke="#FFFF00" stroke-width="1.4"/>
<line x1="181.6" y1="210.50" x2="198.0" y2="210.50" stroke="#FFFF00" stroke-width="1.4"/>
<line x1="181.6" y1="223.40" x2="198.0" y2="223.40" stroke="#FFFF00" stroke-width="1.4"/>
<line x1="181.6" y1="262.60" x2="198.0" y2="262.60" stroke="#FFFF00" stroke-width="1.4"/>
<line x1="345.3" y1="166.90" x2="362.7" y2="166.90" stroke="#FFFF00" stroke-width="1.4"/>
<line x1="345.3" y1="172.30" x2="362.7" y2="172.30" stroke="#FFFF00" stroke-width="1.4"/>
<line x1="345.3" y1="184.20" x2="362.7" y2="184.20" stroke="#FFFF00" stroke-width="1.4"/>
<line x1="345.3" y1="194.00" x2="362.7" y2="194.00" stroke="#FFFF00" stroke-width="1.4"/>
<line x1="345.3" y1="208.00" x2="362.7" y2="208.00" stroke="#FFFF00" stroke-width="1.4"/>
<line x1="345.3" y1="210.50" x2="362.7" y2="210.50" stroke="#FFFF00" stroke-width="1.4"/>
<line x1="345.3" y1="220.00" x2="362.7" y2="220.00" stroke="#FFFF00" stroke-width="1.4"/>
<line x1="345.3" y1="221.00" x2="362.7" y2="221.00" stroke="#FFFF00" stroke-width="1.4"/>
<line x1="345.3" y1="225.80" x2="362.7" y2="225.80" stroke="#FFFF00" stroke-width="1.4"/>
<line x1="345.3" y1="229.30" x2="362.7" y2="229.30" stroke="#FFFF00" stroke-width="1.4"/>
<line x1="345.3" y1="230.30" x2="362.7" y2="230.30" stroke="#FFFF00" stroke-width="1.4"/>
<line x1="345.3" y1="235.50" x2="362.7" y2="235.50" stroke="#FFFF00" stroke-width="1.4"/>
<line x1="345.3" y1="246.60" x2="362.7" y2="246.60" stroke="#FFFF00" stroke-width="1.4"/>
<line x1="345.3" y1="254.00" x2="362.7" y2="254.00" stroke="#FFFF00" stroke-width="1.4"/>
<line x1="345.3" y1="255.00" x2="362.7" y2="255.00" stroke="#FFFF00" stroke-width="1.4"/>
<line x1="345.3" y1="259.30" x2="362.7" y2="259.30" stroke="#FFFF00" stroke-width="1.4"/>
<line x1="345.3" y1="270.40" x2="362.7" y2="270.40" stroke="#FFFF00" stroke-width="1.4"/>
<line x1="345.3" y1="287.20" x2="362.7" y2="287.20" stroke="#FFFF00" stroke-width="1.4"/>
<line x1="345.3" y1="288.20" x2="362.7" y2="288.20" stroke="#FFFF00" stroke-width="1.4"/>
<line x1="345.3" y1="291.20" x2="362.7" y2="291.20" stroke="#FFFF00" stroke-width="1.4"/>
<line x1="345.3" y1="293.30" x2="362.7" y2="293.30" stroke="#FFFF00" stroke-width="1.4"/>
<line x1="345.3" y1="295.40" x2="362.7" y2="295.40" stroke="#FFFF00" stroke-width="1.4"/>
<line x1="345.3" y1="313.80" x2="362.7" y2="313.80" stroke="#FFFF00" stroke-width="1.4"/>
<line x1="345.3" y1="321.40" x2="362.7" y2="321.40" stroke="#FFFF00" stroke-width="1.4"/>
<line x1="345.3" y1="337.50" x2="362.7" y2="337.50" stroke="#FFFF00" stroke-width="1.4"/>
<line x1="445.8" y1="252.90" x2="463.0" y2="252.90" stroke="#FFFF00" stroke-width="1.4"/>
<line x1="445.8" y1="294.20" x2="463.0" y2="294.20" stroke="#FFFF00" stroke-width="1.4"/>
<line x1="610.2" y1="195.00" x2="627.6" y2="195.00" stroke="#FFFF00" stroke-width="1.4"/>
<line x1="610.2" y1="224.70" x2="627.6" y2="224.70" stroke="#FFFF00" stroke-width="1.4"/>
<line x1="610.2" y1="231.00" x2="627.6" y2="231.00" stroke="#FFFF00" stroke-width="1.4"/>
<line x1="610.2" y1="248.70" x2="627.6" y2="248.70" stroke="#FFFF00" stroke-width="1.4"/>
<line x1="610.2" y1="270.40" x2="627.6" y2="270.40" stroke="#FFFF00" stroke-width="1.4"/>
<line x1="610.2" y1="276.80" x2="627.6" y2="276.80" stroke="#FFFF00" stroke-width="1.4"/>
<line x1="610.2" y1="285.60" x2="627.6" y2="285.60" stroke="#FFFF00" stroke-width="1.4"/>
<line x1="610.2" y1="295.30" x2="627.6" y2="295.30" stroke="#FFFF00" stroke-width="1.4"/>
<line x1="610.2" y1="296.30" x2="627.6" y2="296.30" stroke="#FFFF00" stroke-width="1.4"/>
<line x1="610.2" y1="304.10" x2="627.6" y2="304.10" stroke="#FFFF00" stroke-width="1.4"/>
<line x1="610.2" y1="306.20" x2="627.6" y2="306.20" stroke="#FFFF00" stroke-width="1.4"/>
<line x1="610.2" y1="314.10" x2="627.6" y2="314.10" stroke="#FFFF00" stroke-width="1.4"/>
<line x1="610.2" y1="320.30" x2="627.6" y2="320.30" stroke="#FFFF00" stroke-width="1.4"/>
<line x1="610.2" y1="323.60" x2="627.6" y2="323.60" stroke="#FFFF00" stroke-width="1.4"/>
<line x1="610.2" y1="330.10" x2="627.6" y2="330.10" stroke="#FFFF00" stroke-width="1.4"/>
<line x1="610.2" y1="344.50" x2="627.6" y2="344.50" stroke="#FFFF00" stroke-width="1.4"/>
<line x1="610.2" y1="363.00" x2="627.6" y2="363.00" stroke="#FFFF00" stroke-width="1.4"/>
<line x1="710.6" y1="261.80" x2="726.8" y2="261.80" stroke="#FFFF00" stroke-width="1.4"/>
<line x1="710.6" y1="294.40" x2="726.8" y2="294.40" stroke="#FFFF00" stroke-width="1.4"/>
<line x1="710.6" y1="303.00" x2="726.8" y2="303.00" stroke="#FFFF00" stroke-width="1.4"/>
<line x1="710.6" y1="329.30" x2="726.8" y2="329.30" stroke="#FFFF00" stroke-width="1.4"/>
<line x1="710.6" y1="333.60" x2="726.8" y2="333.60" stroke="#FFFF00" stroke-width="1.4"/>
<line x1="710.6" y1="338.00" x2="726.8" y2="338.00" stroke="#FFFF00" stroke-width="1.4"/>
<line x1="710.6" y1="354.00" x2="726.8" y2="354.00" stroke="#FFFF00" stroke-width="1.4"/>
<line x1="173.0" y1="153.80" x2="205.6" y2="153.80" stroke="#FFFF00" stroke-width="1.4"/>
<line x1="337.8" y1="238.80" x2="370.2" y2="238.80" stroke="#FFFF00" stroke-width="1.4"/>
<line x1="329.7" y1="250.70" x2="378.0" y2="250.70" stroke="#FFFF00" stroke-width="1.4"/>
<line x1="337.8" y1="262.80" x2="370.2" y2="262.80" stroke="#FFFF00" stroke-width="1.4"/>
<line x1="602.6" y1="217.00" x2="635.2" y2="217.00" stroke="#FFFF00" stroke-width="1.4"/>
<line x1="604.0" y1="358.40" x2="633.8" y2="358.40" stroke="#FFFF00" stroke-width="1.4"/>
<line x1="81.6" y1="266.00" x2="97.6" y2="266.00" stroke="#2020FF" stroke-width="1.4"/>
<line x1="84.4" y1="266.00" x2="94.1" y2="266.00" stroke="#FFFF00" stroke-width="1.4"/>
<line x1="610.2" y1="108.00" x2="627.6" y2="108.00" stroke="#2020FF" stroke-width="1.4"/>
<line x1="617.2" y1="108.00" x2="620.6" y2="108.00" stroke="#FFFF00" stroke-width="1.4"/>
<line x1="610.2" y1="155.80" x2="627.6" y2="155.80" stroke="#2020FF" stroke-width="1.4"/>
<line x1="611.5" y1="155.80" x2="626.4" y2="155.80" stroke="#FFFF00" stroke-width="1.4"/>
<line x1="710.1" y1="189.70" x2="726.8" y2="189.70" stroke="#2020FF" stroke-width="1.4"/>
<line x1="714.3" y1="189.70" x2="724.0" y2="189.70" stroke="#FFFF00" stroke-width="1.4"/>
<line x1="40.0" y1="156.85" x2="139.1" y2="156.85" stroke="#B02E62" stroke-width="1.2"/>
<line x1="139.7" y1="184.20" x2="239.7" y2="184.20" stroke="#B02E62" stroke-width="1.2"/>
<line x1="304.0" y1="249.60" x2="403.9" y2="249.60" stroke="#B02E62" stroke-width="1.2"/>
<line x1="403.9" y1="317.10" x2="504.2" y2="317.10" stroke="#B02E62" stroke-width="1.2"/>
<line x1="568.7" y1="268.00" x2="668.9" y2="268.00" stroke="#B02E62" stroke-width="1.2"/>
<line x1="669.0" y1="312.80" x2="768.9" y2="312.80" stroke="#B02E62" stroke-width="1.2"/>
<line x1="27.7" y1="30.5" x2="31.5" y2="30.5" stroke="#000" stroke-width="1.1"/>
<line x1="27.7" y1="118.8" x2="31.5" y2="118.8" stroke="#000" stroke-width="1.1"/>
<line x1="292.5" y1="172.1" x2="296.3" y2="172.1" stroke="#000" stroke-width="1.1"/>
<line x1="292.5" y1="276.9" x2="296.3" y2="276.9" stroke="#000" stroke-width="1.1"/>
<line x1="292.5" y1="381.6" x2="296.3" y2="381.6" stroke="#000" stroke-width="1.1"/>
<line x1="556.8" y1="143.1" x2="560.6" y2="143.1" stroke="#000" stroke-width="1.1"/>
<line x1="556.8" y1="222.2" x2="560.6" y2="222.2" stroke="#000" stroke-width="1.1"/>
<line x1="556.8" y1="459.5" x2="560.6" y2="459.5" stroke="#000" stroke-width="1.1"/>
<text x="0" y="0" font-size="11.70" text-anchor="middle" transform="translate(23.90,30.20) rotate(-90)">0.013</text>
<text x="0" y="0" font-size="11.70" text-anchor="middle" transform="translate(23.90,118.37) rotate(-90)">0.012</text>
<text x="0" y="0" font-size="11.70" text-anchor="middle" transform="translate(23.90,206.54) rotate(-90)">0.011</text>
<text x="0" y="0" font-size="11.70" text-anchor="middle" transform="translate(23.90,294.71) rotate(-90)">0.010</text>
<text x="0" y="0" font-size="11.70" text-anchor="middle" transform="translate(23.90,382.88) rotate(-90)">0.009</text>
<text x="0" y="0" font-size="11.70" text-anchor="middle" transform="translate(23.90,471.05) rotate(-90)">0.008</text>
<text x="0" y="0" font-size="11.70" text-anchor="middle" transform="translate(289.00,67.30) rotate(-90)">0.052</text>
<text x="0" y="0" font-size="11.70" text-anchor="middle" transform="translate(289.00,171.85) rotate(-90)">0.050</text>
<text x="0" y="0" font-size="11.70" text-anchor="middle" transform="translate(289.00,276.40) rotate(-90)">0.048</text>
<text x="0" y="0" font-size="11.70" text-anchor="middle" transform="translate(289.00,380.95) rotate(-90)">0.046</text>
<text x="0" y="0" font-size="11.70" text-anchor="middle" transform="translate(289.00,485.50) rotate(-90)">0.044</text>
<text x="0" y="0" font-size="11.70" text-anchor="middle" transform="translate(552.90,63.85) rotate(-90)">0.050</text>
<text x="0" y="0" font-size="11.70" text-anchor="middle" transform="translate(552.90,142.98) rotate(-90)">0.048</text>
<text x="0" y="0" font-size="11.70" text-anchor="middle" transform="translate(552.90,222.11) rotate(-90)">0.046</text>
<text x="0" y="0" font-size="11.70" text-anchor="middle" transform="translate(552.90,301.24) rotate(-90)">0.044</text>
<text x="0" y="0" font-size="11.70" text-anchor="middle" transform="translate(552.90,380.37) rotate(-90)">0.042</text>
<text x="0" y="0" font-size="11.70" text-anchor="middle" transform="translate(552.90,459.50) rotate(-90)">0.040</text>
<text x="0" y="0" font-size="11.70" text-anchor="middle" transform="translate(9.30,256.00) rotate(-90)">GH2010 DP29 peak area mean molar proportion</text>
<text x="0" y="0" font-size="11.70" text-anchor="middle" transform="translate(274.10,256.00) rotate(-90)">GH2010 DP18 peak area mean molar proportion</text>
<text x="0" y="0" font-size="11.70" text-anchor="middle" transform="translate(538.90,256.00) rotate(-90)">GH2010 DP10 peak area mean molar proportion</text>
<text x="88.50" y="523.60" font-size="11.70" text-anchor="middle">C</text>
<text x="189.50" y="523.60" font-size="11.70" text-anchor="middle">T</text>
<text x="353.70" y="523.60" font-size="11.70" text-anchor="middle">A</text>
<text x="453.80" y="523.60" font-size="11.70" text-anchor="middle">G</text>
<text x="618.80" y="523.60" font-size="11.70" text-anchor="middle">G</text>
<text x="719.50" y="523.60" font-size="11.70" text-anchor="middle">T</text>
<text x="139.00" y="537.30" font-size="11.70" text-anchor="middle">SecSuSyn site 148(C/T)</text>
<text x="404.00" y="537.30" font-size="11.70" text-anchor="middle">Invertase inhibitor site 148(A/G)</text>
<text x="668.50" y="537.30" font-size="11.70" text-anchor="middle">AGPS2 site 517(G/T)</text>
</svg></body></html>
